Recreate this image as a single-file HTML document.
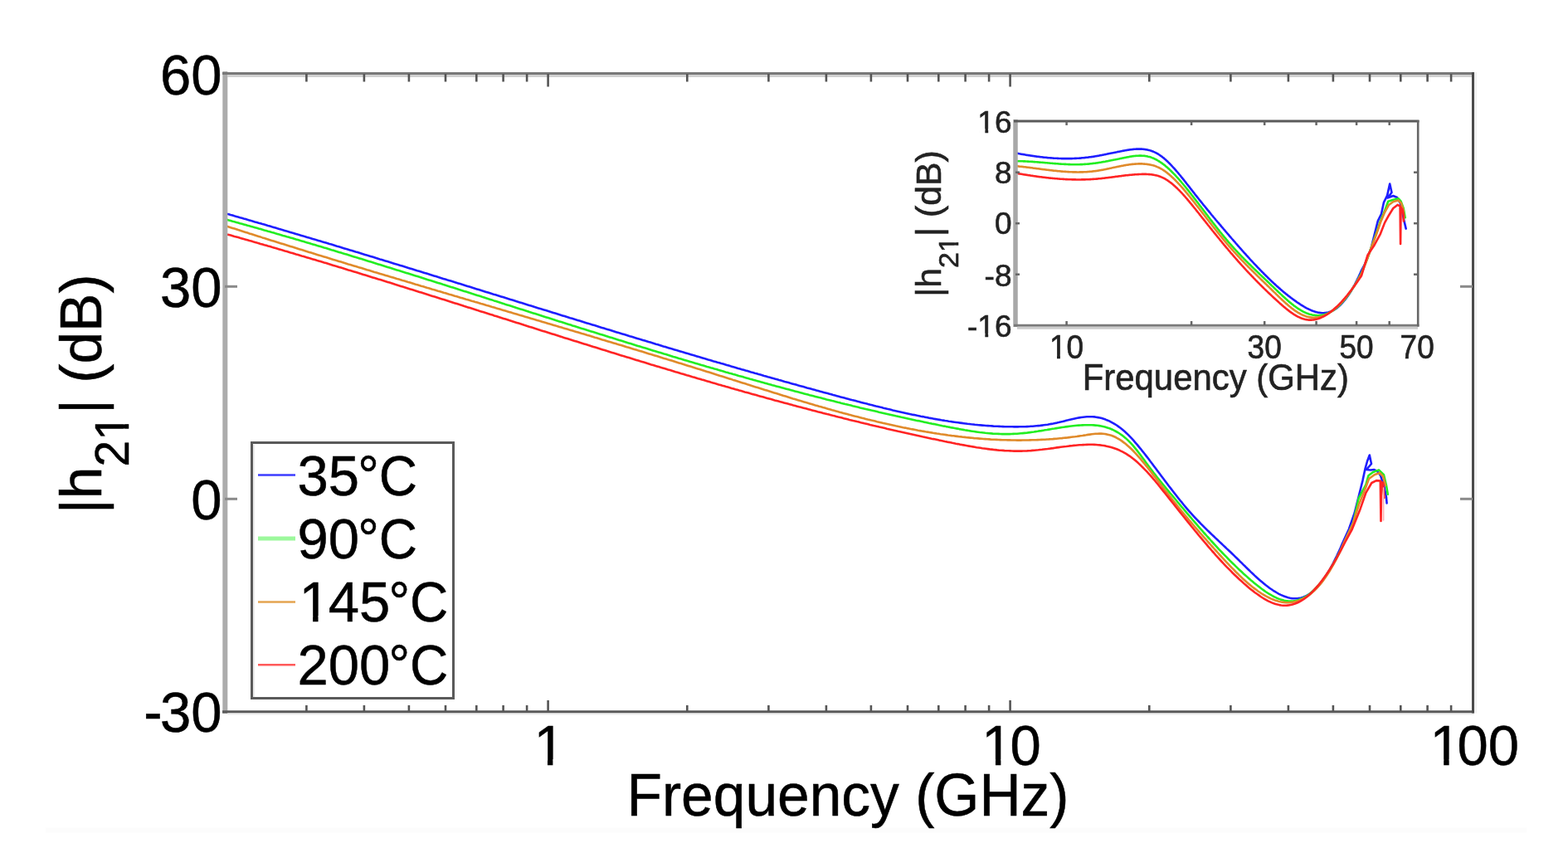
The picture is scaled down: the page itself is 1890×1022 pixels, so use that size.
<!DOCTYPE html>
<html><head><meta charset="utf-8"><title>|h21| vs frequency</title>
<style>
html,body{margin:0;padding:0;background:#fff;width:1890px;height:1022px;overflow:hidden}
svg{display:block}
text{font-family:'Liberation Sans',Arial,Helvetica,sans-serif;fill:#000}
text.m{stroke:#000;stroke-width:0.5px}
text.i{fill:#222;stroke:#222;stroke-width:0.6px}
</style></head><body>
<svg id="fig" width="1890" height="1022" viewBox="0 0 1890 1022">
<defs>
<clipPath id="cm"><rect x="271" y="89" width="1504" height="768"/></clipPath>
<clipPath id="ci"><rect x="1224" y="146" width="485" height="246"/></clipPath>
</defs>
<rect x="0" y="0" width="1890" height="1022" fill="#fff"/>
<rect x="55" y="997.5" width="1785" height="6" fill="#fcfcfc"/>
<g clip-path="url(#cm)" fill="none" stroke-width="2.6" stroke-linejoin="round" stroke-linecap="round">
<polyline points="271.3,257.0 273.5,257.7 275.8,258.3 278.0,259.0 280.3,259.6 282.5,260.3 284.8,260.9 287.0,261.5 289.3,262.2 291.5,262.8 293.8,263.5 296.0,264.1 298.3,264.8 300.5,265.4 302.8,266.1 305.0,266.7 307.3,267.4 309.5,268.0 311.8,268.7 314.0,269.3 316.3,270.0 318.5,270.6 320.8,271.3 323.0,272.0 325.3,272.6 327.5,273.3 329.8,273.9 332.0,274.6 334.3,275.3 336.5,275.9 338.7,276.6 341.0,277.2 343.2,277.9 345.5,278.6 347.7,279.2 350.0,279.9 352.2,280.6 354.5,281.2 356.7,281.9 359.0,282.6 361.2,283.2 363.5,283.9 365.7,284.6 368.0,285.2 370.2,285.9 372.5,286.6 374.7,287.2 377.0,287.9 379.2,288.6 381.5,289.2 383.7,289.9 386.0,290.6 388.2,291.3 390.5,291.9 392.7,292.6 395.0,293.3 397.2,294.0 399.5,294.6 401.7,295.3 403.9,296.0 406.2,296.7 408.4,297.3 410.7,298.0 412.9,298.7 415.2,299.4 417.4,300.1 419.7,300.7 421.9,301.4 424.2,302.1 426.4,302.8 428.7,303.5 430.9,304.1 433.2,304.8 435.4,305.5 437.7,306.2 439.9,306.9 442.2,307.6 444.4,308.2 446.7,308.9 448.9,309.6 451.2,310.3 453.4,311.0 455.7,311.7 457.9,312.4 460.2,313.0 462.4,313.7 464.6,314.4 466.9,315.1 469.1,315.8 471.4,316.5 473.6,317.2 475.9,317.9 478.1,318.6 480.4,319.2 482.6,319.9 484.9,320.6 487.1,321.3 489.4,322.0 491.6,322.7 493.9,323.4 496.1,324.1 498.4,324.8 500.6,325.5 502.9,326.2 505.1,326.8 507.4,327.5 509.6,328.2 511.9,328.9 514.1,329.6 516.4,330.3 518.6,331.0 520.9,331.7 523.1,332.4 525.4,333.1 527.6,333.8 529.8,334.5 532.1,335.2 534.3,335.9 536.6,336.6 538.8,337.3 541.1,337.9 543.3,338.6 545.6,339.3 547.8,340.0 550.1,340.7 552.3,341.4 554.6,342.1 556.8,342.8 559.1,343.5 561.3,344.2 563.6,344.9 565.8,345.6 568.1,346.3 570.3,347.0 572.6,347.7 574.8,348.4 577.1,349.1 579.3,349.8 581.6,350.5 583.8,351.2 586.1,351.9 588.3,352.6 590.6,353.3 592.8,354.0 595.0,354.7 597.3,355.3 599.5,356.0 601.8,356.7 604.0,357.4 606.3,358.1 608.5,358.8 610.8,359.5 613.0,360.2 615.3,360.9 617.5,361.6 619.8,362.3 622.0,363.0 624.3,363.7 626.5,364.4 628.8,365.1 631.0,365.8 633.3,366.5 635.5,367.2 637.8,367.9 640.0,368.6 642.3,369.3 644.5,370.0 646.8,370.7 649.0,371.4 651.3,372.1 653.5,372.7 655.8,373.4 658.0,374.1 660.2,374.8 662.5,375.5 664.7,376.2 667.0,376.9 669.2,377.6 671.5,378.3 673.7,379.0 676.0,379.7 678.2,380.4 680.5,381.1 682.7,381.8 685.0,382.5 687.2,383.2 689.5,383.8 691.7,384.5 694.0,385.2 696.2,385.9 698.5,386.6 700.7,387.3 703.0,388.0 705.2,388.7 707.5,389.4 709.7,390.1 712.0,390.7 714.2,391.4 716.5,392.1 718.7,392.8 720.9,393.5 723.2,394.2 725.4,394.9 727.7,395.6 729.9,396.3 732.2,396.9 734.4,397.6 736.7,398.3 738.9,399.0 741.2,399.7 743.4,400.4 745.7,401.1 747.9,401.7 750.2,402.4 752.4,403.1 754.7,403.8 756.9,404.5 759.2,405.2 761.4,405.8 763.7,406.5 765.9,407.2 768.2,407.9 770.4,408.6 772.7,409.2 774.9,409.9 777.2,410.6 779.4,411.3 781.7,412.0 783.9,412.6 786.1,413.3 788.4,414.0 790.6,414.7 792.9,415.3 795.1,416.0 797.4,416.7 799.6,417.4 801.9,418.0 804.1,418.7 806.4,419.4 808.6,420.1 810.9,420.7 813.1,421.4 815.4,422.1 817.6,422.7 819.9,423.4 822.1,424.1 824.4,424.7 826.6,425.4 828.9,426.1 831.1,426.7 833.4,427.4 835.6,428.1 837.9,428.7 840.1,429.4 842.4,430.1 844.6,430.7 846.9,431.4 849.1,432.1 851.3,432.7 853.6,433.4 855.8,434.0 858.1,434.7 860.3,435.4 862.6,436.0 864.8,436.7 867.1,437.3 869.3,438.0 871.6,438.6 873.8,439.3 876.1,440.0 878.3,440.6 880.6,441.3 882.8,441.9 885.1,442.6 887.3,443.2 889.6,443.9 891.8,444.5 894.1,445.2 896.3,445.8 898.6,446.5 900.8,447.1 903.1,447.7 905.3,448.4 907.6,449.0 909.8,449.7 912.1,450.3 914.3,451.0 916.5,451.6 918.8,452.2 921.0,452.9 923.3,453.5 925.5,454.2 927.8,454.8 930.0,455.4 932.3,456.1 934.5,456.7 936.8,457.3 939.0,458.0 941.3,458.6 943.5,459.2 945.8,459.9 948.0,460.5 950.3,461.1 952.5,461.8 954.8,462.4 957.0,463.0 959.3,463.6 961.5,464.3 963.8,464.9 966.0,465.5 968.3,466.1 970.5,466.7 972.8,467.4 975.0,468.0 977.2,468.6 979.5,469.2 981.7,469.8 984.0,470.5 986.2,471.1 988.5,471.7 990.7,472.3 993.0,472.9 995.2,473.5 997.5,474.1 999.7,474.7 1002.0,475.3 1004.2,476.0 1006.5,476.6 1008.7,477.2 1011.0,477.8 1013.2,478.4 1015.5,479.0 1017.7,479.6 1020.0,480.2 1022.2,480.8 1024.5,481.4 1026.7,482.0 1029.0,482.5 1031.2,483.1 1033.5,483.7 1035.7,484.3 1038.0,484.9 1040.2,485.5 1042.4,486.1 1044.7,486.6 1046.9,487.2 1049.2,487.8 1051.4,488.3 1053.7,488.9 1055.9,489.5 1058.2,490.0 1060.4,490.6 1062.7,491.1 1064.9,491.7 1067.2,492.2 1069.4,492.8 1071.7,493.3 1073.9,493.8 1076.2,494.4 1078.4,494.9 1080.7,495.4 1082.9,495.9 1085.2,496.4 1087.4,496.9 1089.7,497.4 1091.9,497.9 1094.2,498.4 1096.4,498.9 1098.7,499.4 1100.9,499.9 1103.2,500.3 1105.4,500.8 1107.6,501.2 1109.9,501.7 1112.1,502.1 1114.4,502.6 1116.6,503.0 1118.9,503.4 1121.1,503.9 1123.4,504.3 1125.6,504.7 1127.9,505.1 1130.1,505.5 1132.4,505.9 1134.6,506.3 1136.9,506.6 1139.1,507.0 1141.4,507.3 1143.6,507.7 1145.9,508.0 1148.1,508.4 1150.4,508.7 1152.6,509.0 1154.9,509.3 1157.1,509.6 1159.4,509.9 1161.6,510.2 1163.9,510.5 1166.1,510.8 1168.4,511.0 1170.6,511.3 1172.8,511.5 1175.1,511.8 1177.3,512.0 1179.6,512.2 1181.8,512.4 1184.1,512.6 1186.3,512.8 1188.6,513.0 1190.8,513.1 1193.1,513.3 1195.3,513.4 1197.6,513.6 1199.8,513.7 1202.1,513.8 1204.3,513.9 1206.6,514.0 1208.8,514.1 1211.1,514.2 1213.3,514.2 1215.6,514.3 1217.8,514.3 1220.1,514.3 1222.3,514.4 1224.6,514.4 1226.8,514.4 1229.1,514.3 1231.3,514.3 1233.5,514.2 1235.8,514.2 1238.0,514.1 1240.3,514.0 1242.5,513.8 1244.8,513.7 1247.0,513.5 1249.3,513.3 1251.5,513.1 1253.8,512.9 1256.0,512.6 1258.3,512.3 1260.5,512.0 1262.8,511.7 1265.0,511.3 1267.3,510.9 1269.5,510.5 1271.8,510.0 1274.0,509.6 1276.3,509.1 1278.5,508.5 1280.8,508.0 1283.0,507.4 1285.3,506.8 1287.5,506.3 1289.8,505.7 1292.0,505.2 1294.3,504.7 1296.5,504.2 1298.7,503.8 1301.0,503.4 1303.2,503.0 1305.5,502.7 1307.7,502.5 1310.0,502.3 1312.2,502.2 1314.5,502.2 1316.7,502.3 1319.0,502.4 1321.2,502.7 1323.5,503.1 1325.7,503.5 1328.0,504.1 1330.2,504.8 1332.5,505.6 1334.7,506.5 1337.0,507.4 1339.2,508.6 1341.5,509.8 1343.7,511.1 1346.0,512.5 1348.2,514.1 1350.5,515.7 1352.7,517.5 1355.0,519.4 1357.2,521.5 1359.5,523.6 1361.7,525.9 1363.9,528.2 1366.2,530.7 1368.4,533.3 1370.7,535.9 1372.9,538.6 1375.2,541.3 1377.4,544.2 1379.7,547.0 1381.9,549.9 1384.2,552.8 1386.4,555.8 1388.7,558.7 1390.9,561.7 1393.2,564.7 1395.4,567.7 1397.7,570.7 1399.9,573.7 1402.2,576.7 1404.4,579.7 1406.7,582.7 1408.9,585.7 1411.2,588.6 1413.4,591.5 1415.7,594.5 1417.9,597.3 1420.2,600.2 1422.4,603.0 1424.7,605.7 1426.9,608.5 1429.1,611.1 1431.4,613.8 1433.6,616.3 1435.9,618.9 1438.1,621.3 1440.4,623.8 1442.6,626.1 1444.9,628.5 1447.1,630.8 1449.4,633.1 1451.6,635.3 1453.9,637.6 1456.1,639.8 1458.4,642.0 1460.6,644.1 1462.9,646.3 1465.1,648.4 1467.4,650.5 1469.6,652.6 1471.9,654.8 1474.1,656.9 1476.4,659.0 1478.6,661.1 1480.9,663.2 1483.1,665.3 1485.4,667.5 1487.6,669.6 1489.8,671.8 1492.1,674.0 1494.3,676.2 1496.6,678.4 1498.8,680.6 1501.1,682.8 1503.3,685.0 1505.6,687.2 1507.8,689.4 1510.1,691.5 1512.3,693.6 1514.6,695.7 1516.8,697.7 1519.1,699.7 1521.3,701.6 1523.6,703.5 1525.8,705.3 1528.1,707.0 1530.3,708.7 1532.6,710.3 1534.8,711.8 1537.1,713.2 1539.3,714.5 1541.6,715.8 1543.8,716.9 1546.1,717.9 1548.3,718.8 1550.6,719.6 1552.8,720.2 1555.0,720.7 1557.3,721.1 1559.5,721.3 1561.8,721.3 1564.0,721.2 1566.3,720.9 1568.5,720.4 1570.8,719.7 1573.0,718.8 1575.3,717.7 1577.5,716.4 1579.8,714.9 1582.0,713.2 1584.3,711.2 1586.5,709.0 1588.8,706.5 1591.0,703.9 1593.3,701.0 1595.5,697.9 1597.8,694.6 1600.0,691.1 1602.3,687.3 1604.5,683.3 1606.8,679.1 1609.0,674.7 1611.3,670.1 1613.5,665.3 1615.8,660.2 1618.0,655.0 1625.9,637.8 1632.7,618.3 1637.6,598.7 1642.5,579.1 1645.4,565.4 1648.0,556.0 1650.8,548.5 1653.0,559.0 1647.0,566.0 1652.0,566.5 1656.0,566.0 1660.0,568.0 1664.0,573.0 1668.0,585.0 1670.9,598.7 1671.6,606.5" stroke="#1e1eff"/>
<polyline points="271.3,264.2 273.6,264.8 275.8,265.4 278.1,266.0 280.3,266.7 282.6,267.3 284.8,267.9 287.1,268.5 289.3,269.2 291.6,269.8 293.8,270.4 296.1,271.0 298.3,271.7 300.6,272.3 302.8,272.9 305.1,273.6 307.3,274.2 309.6,274.8 311.8,275.5 314.1,276.1 316.3,276.7 318.6,277.4 320.8,278.0 323.1,278.7 325.3,279.3 327.6,280.0 329.8,280.6 332.1,281.3 334.3,281.9 336.6,282.6 338.8,283.2 341.1,283.9 343.4,284.5 345.6,285.2 347.9,285.8 350.1,286.5 352.4,287.1 354.6,287.8 356.9,288.5 359.1,289.1 361.4,289.8 363.6,290.4 365.9,291.1 368.1,291.8 370.4,292.4 372.6,293.1 374.9,293.8 377.1,294.4 379.4,295.1 381.6,295.8 383.9,296.4 386.1,297.1 388.4,297.8 390.6,298.5 392.9,299.1 395.1,299.8 397.4,300.5 399.6,301.2 401.9,301.8 404.1,302.5 406.4,303.2 408.6,303.9 410.9,304.6 413.1,305.3 415.4,305.9 417.7,306.6 419.9,307.3 422.2,308.0 424.4,308.7 426.7,309.4 428.9,310.1 431.2,310.7 433.4,311.4 435.7,312.1 437.9,312.8 440.2,313.5 442.4,314.2 444.7,314.9 446.9,315.6 449.2,316.3 451.4,317.0 453.7,317.7 455.9,318.4 458.2,319.1 460.4,319.8 462.7,320.5 464.9,321.2 467.2,321.9 469.4,322.6 471.7,323.3 473.9,324.0 476.2,324.7 478.4,325.4 480.7,326.1 482.9,326.8 485.2,327.5 487.5,328.2 489.7,328.9 492.0,329.6 494.2,330.3 496.5,331.0 498.7,331.7 501.0,332.4 503.2,333.1 505.5,333.8 507.7,334.5 510.0,335.2 512.2,335.9 514.5,336.7 516.7,337.4 519.0,338.1 521.2,338.8 523.5,339.5 525.7,340.2 528.0,340.9 530.2,341.6 532.5,342.3 534.7,343.1 537.0,343.8 539.2,344.5 541.5,345.2 543.7,345.9 546.0,346.6 548.2,347.3 550.5,348.0 552.7,348.8 555.0,349.5 557.3,350.2 559.5,350.9 561.8,351.6 564.0,352.3 566.3,353.0 568.5,353.8 570.8,354.5 573.0,355.2 575.3,355.9 577.5,356.6 579.8,357.3 582.0,358.1 584.3,358.8 586.5,359.5 588.8,360.2 591.0,360.9 593.3,361.6 595.5,362.4 597.8,363.1 600.0,363.8 602.3,364.5 604.5,365.2 606.8,365.9 609.0,366.7 611.3,367.4 613.5,368.1 615.8,368.8 618.0,369.5 620.3,370.2 622.5,371.0 624.8,371.7 627.1,372.4 629.3,373.1 631.6,373.8 633.8,374.5 636.1,375.2 638.3,376.0 640.6,376.7 642.8,377.4 645.1,378.1 647.3,378.8 649.6,379.5 651.8,380.2 654.1,381.0 656.3,381.7 658.6,382.4 660.8,383.1 663.1,383.8 665.3,384.5 667.6,385.2 669.8,386.0 672.1,386.7 674.3,387.4 676.6,388.1 678.8,388.8 681.1,389.5 683.3,390.2 685.6,390.9 687.8,391.6 690.1,392.4 692.3,393.1 694.6,393.8 696.8,394.5 699.1,395.2 701.4,395.9 703.6,396.6 705.9,397.3 708.1,398.0 710.4,398.7 712.6,399.4 714.9,400.1 717.1,400.8 719.4,401.5 721.6,402.2 723.9,402.9 726.1,403.6 728.4,404.3 730.6,405.0 732.9,405.7 735.1,406.4 737.4,407.1 739.6,407.8 741.9,408.5 744.1,409.2 746.4,409.9 748.6,410.6 750.9,411.3 753.1,412.0 755.4,412.7 757.6,413.4 759.9,414.1 762.1,414.8 764.4,415.5 766.6,416.2 768.9,416.9 771.2,417.6 773.4,418.3 775.7,418.9 777.9,419.6 780.2,420.3 782.4,421.0 784.7,421.7 786.9,422.4 789.2,423.1 791.4,423.7 793.7,424.4 795.9,425.1 798.2,425.8 800.4,426.5 802.7,427.1 804.9,427.8 807.2,428.5 809.4,429.2 811.7,429.9 813.9,430.5 816.2,431.2 818.4,431.9 820.7,432.5 822.9,433.2 825.2,433.9 827.4,434.6 829.7,435.2 831.9,435.9 834.2,436.6 836.4,437.2 838.7,437.9 841.0,438.6 843.2,439.2 845.5,439.9 847.7,440.5 850.0,441.2 852.2,441.9 854.5,442.5 856.7,443.2 859.0,443.8 861.2,444.5 863.5,445.1 865.7,445.8 868.0,446.4 870.2,447.1 872.5,447.7 874.7,448.4 877.0,449.0 879.2,449.7 881.5,450.3 883.7,451.0 886.0,451.6 888.2,452.2 890.5,452.9 892.7,453.5 895.0,454.1 897.2,454.8 899.5,455.4 901.7,456.0 904.0,456.7 906.2,457.3 908.5,457.9 910.8,458.6 913.0,459.2 915.3,459.8 917.5,460.4 919.8,461.1 922.0,461.7 924.3,462.3 926.5,462.9 928.8,463.5 931.0,464.2 933.3,464.8 935.5,465.4 937.8,466.0 940.0,466.6 942.3,467.2 944.5,467.8 946.8,468.4 949.0,469.0 951.3,469.6 953.5,470.2 955.8,470.8 958.0,471.4 960.3,472.0 962.5,472.6 964.8,473.2 967.0,473.8 969.3,474.4 971.5,475.0 973.8,475.6 976.0,476.2 978.3,476.7 980.5,477.3 982.8,477.9 985.1,478.5 987.3,479.1 989.6,479.6 991.8,480.2 994.1,480.8 996.3,481.4 998.6,481.9 1000.8,482.5 1003.1,483.1 1005.3,483.6 1007.6,484.2 1009.8,484.8 1012.1,485.3 1014.3,485.9 1016.6,486.4 1018.8,487.0 1021.1,487.5 1023.3,488.1 1025.6,488.6 1027.8,489.2 1030.1,489.7 1032.3,490.3 1034.6,490.8 1036.8,491.4 1039.1,491.9 1041.3,492.4 1043.6,493.0 1045.8,493.5 1048.1,494.0 1050.3,494.6 1052.6,495.1 1054.9,495.6 1057.1,496.1 1059.4,496.7 1061.6,497.2 1063.9,497.7 1066.1,498.2 1068.4,498.7 1070.6,499.2 1072.9,499.7 1075.1,500.2 1077.4,500.7 1079.6,501.3 1081.9,501.8 1084.1,502.3 1086.4,502.8 1088.6,503.2 1090.9,503.7 1093.1,504.2 1095.4,504.7 1097.6,505.2 1099.9,505.7 1102.1,506.2 1104.4,506.7 1106.6,507.1 1108.9,507.6 1111.1,508.1 1113.4,508.6 1115.6,509.0 1117.9,509.5 1120.1,510.0 1122.4,510.4 1124.7,510.9 1126.9,511.3 1129.2,511.8 1131.4,512.3 1133.7,512.7 1135.9,513.2 1138.2,513.6 1140.4,514.1 1142.7,514.5 1144.9,514.9 1147.2,515.4 1149.4,515.8 1151.7,516.2 1153.9,516.6 1156.2,517.1 1158.4,517.5 1160.7,517.9 1162.9,518.3 1165.2,518.6 1167.4,519.0 1169.7,519.4 1171.9,519.7 1174.2,520.0 1176.4,520.4 1178.7,520.7 1180.9,521.0 1183.2,521.2 1185.4,521.5 1187.7,521.8 1189.9,522.0 1192.2,522.2 1194.5,522.4 1196.7,522.6 1199.0,522.7 1201.2,522.8 1203.5,522.9 1205.7,523.0 1208.0,523.1 1210.2,523.1 1212.5,523.1 1214.7,523.1 1217.0,523.1 1219.2,523.0 1221.5,522.9 1223.7,522.8 1226.0,522.7 1228.2,522.5 1230.5,522.3 1232.7,522.1 1235.0,521.9 1237.2,521.7 1239.5,521.4 1241.7,521.1 1244.0,520.8 1246.2,520.5 1248.5,520.1 1250.7,519.8 1253.0,519.4 1255.2,519.1 1257.5,518.7 1259.7,518.3 1262.0,518.0 1264.2,517.6 1266.5,517.2 1268.8,516.8 1271.0,516.5 1273.3,516.1 1275.5,515.7 1277.8,515.4 1280.0,515.0 1282.3,514.7 1284.5,514.4 1286.8,514.1 1289.0,513.8 1291.3,513.5 1293.5,513.2 1295.8,513.0 1298.0,512.8 1300.3,512.6 1302.5,512.5 1304.8,512.4 1307.0,512.3 1309.3,512.2 1311.5,512.2 1313.8,512.2 1316.0,512.3 1318.3,512.4 1320.5,512.6 1322.8,512.8 1325.0,513.1 1327.3,513.5 1329.5,514.0 1331.8,514.5 1334.0,515.2 1336.3,515.9 1338.6,516.8 1340.8,517.7 1343.1,518.8 1345.3,520.0 1347.6,521.3 1349.8,522.8 1352.1,524.3 1354.3,526.1 1356.6,527.9 1358.8,529.9 1361.1,532.1 1363.3,534.4 1365.6,536.9 1367.8,539.6 1370.1,542.4 1372.3,545.3 1374.6,548.2 1376.8,551.2 1379.1,554.3 1381.3,557.4 1383.6,560.5 1385.8,563.5 1388.1,566.5 1390.3,569.5 1392.6,572.4 1394.8,575.2 1397.1,578.1 1399.3,580.8 1401.6,583.6 1403.8,586.3 1406.1,589.1 1408.4,591.8 1410.6,594.5 1412.9,597.1 1415.1,599.8 1417.4,602.5 1419.6,605.2 1421.9,607.9 1424.1,610.6 1426.4,613.2 1428.6,615.9 1430.9,618.6 1433.1,621.2 1435.4,623.8 1437.6,626.5 1439.9,629.1 1442.1,631.7 1444.4,634.3 1446.6,636.9 1448.9,639.4 1451.1,642.0 1453.4,644.5 1455.6,647.0 1457.9,649.5 1460.1,652.0 1462.4,654.5 1464.6,656.9 1466.9,659.4 1469.1,661.8 1471.4,664.2 1473.6,666.5 1475.9,668.9 1478.2,671.2 1480.4,673.5 1482.7,675.8 1484.9,678.0 1487.2,680.2 1489.4,682.4 1491.7,684.6 1493.9,686.7 1496.2,688.8 1498.4,690.9 1500.7,692.9 1502.9,694.9 1505.2,696.9 1507.4,698.9 1509.7,700.8 1511.9,702.7 1514.2,704.5 1516.4,706.3 1518.7,708.1 1520.9,709.8 1523.2,711.4 1525.4,713.0 1527.7,714.5 1529.9,715.9 1532.2,717.2 1534.4,718.5 1536.7,719.6 1538.9,720.7 1541.2,721.6 1543.4,722.4 1545.7,723.1 1547.9,723.7 1550.2,724.1 1552.5,724.4 1554.7,724.5 1557.0,724.5 1559.2,724.4 1561.5,724.0 1563.7,723.5 1566.0,722.8 1568.2,721.9 1570.5,720.9 1572.7,719.7 1575.0,718.3 1577.2,716.7 1579.5,714.9 1581.7,713.0 1584.0,710.9 1586.2,708.7 1588.5,706.2 1590.7,703.6 1593.0,700.8 1595.2,697.9 1597.5,694.8 1599.7,691.5 1602.0,688.1 1604.2,684.4 1606.5,680.7 1608.7,676.7 1611.0,672.6 1613.2,668.4 1615.5,664.0 1617.7,659.4 1620.0,654.7 1631.2,630.1 1637.6,600.7 1646.4,584.0 1649.4,573.3 1655.0,569.0 1662.0,566.4 1668.0,572.3 1671.0,585.0 1672.8,595.8" stroke="#22ee22"/>
<polyline points="271.3,272.0 273.6,272.7 275.8,273.4 278.1,274.2 280.3,274.9 282.6,275.6 284.8,276.3 287.1,277.1 289.3,277.8 291.6,278.5 293.8,279.2 296.1,279.9 298.3,280.6 300.6,281.4 302.8,282.1 305.1,282.8 307.3,283.5 309.6,284.2 311.8,284.9 314.1,285.6 316.3,286.4 318.6,287.1 320.8,287.8 323.1,288.5 325.3,289.2 327.6,289.9 329.8,290.6 332.1,291.3 334.3,292.0 336.6,292.7 338.8,293.4 341.1,294.1 343.4,294.8 345.6,295.5 347.9,296.2 350.1,296.9 352.4,297.6 354.6,298.3 356.9,299.0 359.1,299.7 361.4,300.4 363.6,301.1 365.9,301.8 368.1,302.5 370.4,303.2 372.6,303.9 374.9,304.6 377.1,305.3 379.4,306.0 381.6,306.7 383.9,307.4 386.1,308.1 388.4,308.7 390.6,309.4 392.9,310.1 395.1,310.8 397.4,311.5 399.6,312.2 401.9,312.9 404.1,313.6 406.4,314.2 408.6,314.9 410.9,315.6 413.1,316.3 415.4,317.0 417.7,317.7 419.9,318.4 422.2,319.0 424.4,319.7 426.7,320.4 428.9,321.1 431.2,321.8 433.4,322.4 435.7,323.1 437.9,323.8 440.2,324.5 442.4,325.2 444.7,325.8 446.9,326.5 449.2,327.2 451.4,327.9 453.7,328.5 455.9,329.2 458.2,329.9 460.4,330.6 462.7,331.2 464.9,331.9 467.2,332.6 469.4,333.3 471.7,333.9 473.9,334.6 476.2,335.3 478.4,336.0 480.7,336.6 482.9,337.3 485.2,338.0 487.5,338.6 489.7,339.3 492.0,340.0 494.2,340.6 496.5,341.3 498.7,342.0 501.0,342.7 503.2,343.3 505.5,344.0 507.7,344.7 510.0,345.3 512.2,346.0 514.5,346.7 516.7,347.3 519.0,348.0 521.2,348.7 523.5,349.3 525.7,350.0 528.0,350.7 530.2,351.3 532.5,352.0 534.7,352.7 537.0,353.3 539.2,354.0 541.5,354.7 543.7,355.3 546.0,356.0 548.2,356.7 550.5,357.3 552.7,358.0 555.0,358.7 557.3,359.3 559.5,360.0 561.8,360.7 564.0,361.3 566.3,362.0 568.5,362.7 570.8,363.3 573.0,364.0 575.3,364.6 577.5,365.3 579.8,366.0 582.0,366.6 584.3,367.3 586.5,368.0 588.8,368.6 591.0,369.3 593.3,370.0 595.5,370.6 597.8,371.3 600.0,371.9 602.3,372.6 604.5,373.3 606.8,373.9 609.0,374.6 611.3,375.3 613.5,375.9 615.8,376.6 618.0,377.3 620.3,377.9 622.5,378.6 624.8,379.3 627.1,379.9 629.3,380.6 631.6,381.3 633.8,381.9 636.1,382.6 638.3,383.2 640.6,383.9 642.8,384.6 645.1,385.2 647.3,385.9 649.6,386.6 651.8,387.2 654.1,387.9 656.3,388.6 658.6,389.2 660.8,389.9 663.1,390.6 665.3,391.2 667.6,391.9 669.8,392.6 672.1,393.2 674.3,393.9 676.6,394.6 678.8,395.3 681.1,395.9 683.3,396.6 685.6,397.3 687.8,397.9 690.1,398.6 692.3,399.3 694.6,399.9 696.8,400.6 699.1,401.3 701.4,402.0 703.6,402.6 705.9,403.3 708.1,404.0 710.4,404.6 712.6,405.3 714.9,406.0 717.1,406.7 719.4,407.3 721.6,408.0 723.9,408.7 726.1,409.4 728.4,410.0 730.6,410.7 732.9,411.4 735.1,412.1 737.4,412.7 739.6,413.4 741.9,414.1 744.1,414.8 746.4,415.4 748.6,416.1 750.9,416.8 753.1,417.5 755.4,418.2 757.6,418.8 759.9,419.5 762.1,420.2 764.4,420.9 766.6,421.6 768.9,422.3 771.2,422.9 773.4,423.6 775.7,424.3 777.9,425.0 780.2,425.7 782.4,426.4 784.7,427.1 786.9,427.7 789.2,428.4 791.4,429.1 793.7,429.8 795.9,430.5 798.2,431.2 800.4,431.9 802.7,432.6 804.9,433.3 807.2,433.9 809.4,434.6 811.7,435.3 813.9,436.0 816.2,436.7 818.4,437.4 820.7,438.1 822.9,438.8 825.2,439.5 827.4,440.2 829.7,440.9 831.9,441.6 834.2,442.3 836.4,443.0 838.7,443.7 841.0,444.4 843.2,445.1 845.5,445.8 847.7,446.5 850.0,447.2 852.2,447.9 854.5,448.6 856.7,449.3 859.0,450.0 861.2,450.7 863.5,451.5 865.7,452.2 868.0,452.9 870.2,453.6 872.5,454.3 874.7,455.0 877.0,455.7 879.2,456.4 881.5,457.1 883.7,457.9 886.0,458.6 888.2,459.3 890.5,460.0 892.7,460.7 895.0,461.4 897.2,462.1 899.5,462.8 901.7,463.6 904.0,464.3 906.2,465.0 908.5,465.7 910.8,466.4 913.0,467.1 915.3,467.8 917.5,468.5 919.8,469.2 922.0,469.9 924.3,470.6 926.5,471.3 928.8,472.0 931.0,472.7 933.3,473.4 935.5,474.1 937.8,474.8 940.0,475.5 942.3,476.2 944.5,476.9 946.8,477.6 949.0,478.3 951.3,479.0 953.5,479.7 955.8,480.4 958.0,481.0 960.3,481.7 962.5,482.4 964.8,483.1 967.0,483.7 969.3,484.4 971.5,485.1 973.8,485.7 976.0,486.4 978.3,487.1 980.5,487.7 982.8,488.4 985.1,489.0 987.3,489.7 989.6,490.3 991.8,491.0 994.1,491.6 996.3,492.3 998.6,492.9 1000.8,493.5 1003.1,494.2 1005.3,494.8 1007.6,495.4 1009.8,496.0 1012.1,496.7 1014.3,497.3 1016.6,497.9 1018.8,498.5 1021.1,499.1 1023.3,499.7 1025.6,500.3 1027.8,500.9 1030.1,501.5 1032.3,502.0 1034.6,502.6 1036.8,503.2 1039.1,503.8 1041.3,504.3 1043.6,504.9 1045.8,505.5 1048.1,506.0 1050.3,506.6 1052.6,507.1 1054.9,507.6 1057.1,508.2 1059.4,508.7 1061.6,509.2 1063.9,509.8 1066.1,510.3 1068.4,510.8 1070.6,511.3 1072.9,511.8 1075.1,512.3 1077.4,512.8 1079.6,513.3 1081.9,513.7 1084.1,514.2 1086.4,514.7 1088.6,515.2 1090.9,515.6 1093.1,516.1 1095.4,516.5 1097.6,517.0 1099.9,517.4 1102.1,517.8 1104.4,518.2 1106.6,518.7 1108.9,519.1 1111.1,519.5 1113.4,519.9 1115.6,520.3 1117.9,520.6 1120.1,521.0 1122.4,521.4 1124.7,521.8 1126.9,522.1 1129.2,522.5 1131.4,522.8 1133.7,523.2 1135.9,523.5 1138.2,523.8 1140.4,524.1 1142.7,524.5 1144.9,524.8 1147.2,525.1 1149.4,525.3 1151.7,525.6 1153.9,525.9 1156.2,526.2 1158.4,526.4 1160.7,526.7 1162.9,526.9 1165.2,527.2 1167.4,527.4 1169.7,527.6 1171.9,527.8 1174.2,528.1 1176.4,528.3 1178.7,528.4 1180.9,528.6 1183.2,528.8 1185.4,529.0 1187.7,529.1 1189.9,529.3 1192.2,529.4 1194.5,529.6 1196.7,529.7 1199.0,529.8 1201.2,529.9 1203.5,530.0 1205.7,530.1 1208.0,530.2 1210.2,530.3 1212.5,530.3 1214.7,530.4 1217.0,530.4 1219.2,530.5 1221.5,530.5 1223.7,530.5 1226.0,530.6 1228.2,530.6 1230.5,530.6 1232.7,530.5 1235.0,530.5 1237.2,530.5 1239.5,530.5 1241.7,530.4 1244.0,530.3 1246.2,530.3 1248.5,530.2 1250.7,530.1 1253.0,530.0 1255.2,529.9 1257.5,529.8 1259.7,529.7 1262.0,529.5 1264.2,529.4 1266.5,529.2 1268.8,529.1 1271.0,528.9 1273.3,528.7 1275.5,528.5 1277.8,528.3 1280.0,528.1 1282.3,527.8 1284.5,527.6 1286.8,527.4 1289.0,527.1 1291.3,526.8 1293.5,526.5 1295.8,526.3 1298.0,526.0 1300.3,525.6 1302.5,525.3 1304.8,525.0 1307.0,524.6 1309.3,524.3 1311.5,523.9 1313.8,523.6 1316.0,523.3 1318.3,523.0 1320.5,522.8 1322.8,522.7 1325.0,522.6 1327.3,522.6 1329.5,522.8 1331.8,523.0 1334.0,523.4 1336.3,523.9 1338.6,524.5 1340.8,525.3 1343.1,526.3 1345.3,527.3 1347.6,528.6 1349.8,529.9 1352.1,531.4 1354.3,533.1 1356.6,534.8 1358.8,536.7 1361.1,538.7 1363.3,540.8 1365.6,543.0 1367.8,545.4 1370.1,547.8 1372.3,550.3 1374.6,552.9 1376.8,555.6 1379.1,558.3 1381.3,561.1 1383.6,563.9 1385.8,566.8 1388.1,569.7 1390.3,572.6 1392.6,575.5 1394.8,578.4 1397.1,581.4 1399.3,584.3 1401.6,587.3 1403.8,590.2 1406.1,593.1 1408.4,596.0 1410.6,598.9 1412.9,601.8 1415.1,604.6 1417.4,607.4 1419.6,610.2 1421.9,613.0 1424.1,615.7 1426.4,618.5 1428.6,621.2 1430.9,623.9 1433.1,626.6 1435.4,629.2 1437.6,631.8 1439.9,634.5 1442.1,637.1 1444.4,639.7 1446.6,642.3 1448.9,644.8 1451.1,647.4 1453.4,649.9 1455.6,652.5 1457.9,655.0 1460.1,657.5 1462.4,660.0 1464.6,662.5 1466.9,665.0 1469.1,667.5 1471.4,670.0 1473.6,672.4 1475.9,674.9 1478.2,677.3 1480.4,679.7 1482.7,682.1 1484.9,684.4 1487.2,686.7 1489.4,689.0 1491.7,691.2 1493.9,693.4 1496.2,695.6 1498.4,697.7 1500.7,699.7 1502.9,701.7 1505.2,703.7 1507.4,705.6 1509.7,707.4 1511.9,709.1 1514.2,710.8 1516.4,712.5 1518.7,714.0 1520.9,715.5 1523.2,716.9 1525.4,718.2 1527.7,719.4 1529.9,720.5 1532.2,721.6 1534.4,722.5 1536.7,723.4 1538.9,724.1 1541.2,724.7 1543.4,725.2 1545.7,725.6 1547.9,725.9 1550.2,726.1 1552.5,726.2 1554.7,726.1 1557.0,725.9 1559.2,725.5 1561.5,725.0 1563.7,724.4 1566.0,723.7 1568.2,722.7 1570.5,721.7 1572.7,720.5 1575.0,719.1 1577.2,717.6 1579.5,715.9 1581.7,714.0 1584.0,712.0 1586.2,709.8 1588.5,707.4 1590.7,704.9 1593.0,702.2 1595.2,699.2 1597.5,696.1 1599.7,692.8 1602.0,689.3 1604.2,685.6 1606.5,681.7 1608.7,677.6 1611.0,673.3 1613.2,668.8 1615.5,664.1 1617.7,659.1 1620.0,653.9 1631.0,630.5 1638.0,608.0 1646.0,588.0 1650.0,577.0 1657.0,572.0 1663.0,570.0 1667.0,574.0 1670.0,585.0" stroke="#e08a2a"/>
<polyline points="271.3,281.7 273.6,282.4 275.8,283.0 278.1,283.6 280.3,284.2 282.6,284.9 284.8,285.5 287.1,286.1 289.3,286.8 291.6,287.4 293.8,288.1 296.1,288.7 298.3,289.3 300.6,290.0 302.8,290.6 305.1,291.3 307.4,291.9 309.6,292.6 311.9,293.2 314.1,293.9 316.4,294.5 318.6,295.2 320.9,295.8 323.1,296.5 325.4,297.1 327.6,297.8 329.9,298.4 332.1,299.1 334.4,299.7 336.6,300.4 338.9,301.1 341.2,301.7 343.4,302.4 345.7,303.0 347.9,303.7 350.2,304.4 352.4,305.0 354.7,305.7 356.9,306.4 359.2,307.0 361.4,307.7 363.7,308.4 365.9,309.0 368.2,309.7 370.4,310.4 372.7,311.1 374.9,311.7 377.2,312.4 379.5,313.1 381.7,313.8 384.0,314.4 386.2,315.1 388.5,315.8 390.7,316.5 393.0,317.1 395.2,317.8 397.5,318.5 399.7,319.2 402.0,319.9 404.2,320.6 406.5,321.2 408.7,321.9 411.0,322.6 413.3,323.3 415.5,324.0 417.8,324.7 420.0,325.4 422.3,326.0 424.5,326.7 426.8,327.4 429.0,328.1 431.3,328.8 433.5,329.5 435.8,330.2 438.0,330.9 440.3,331.6 442.5,332.3 444.8,333.0 447.1,333.7 449.3,334.4 451.6,335.1 453.8,335.8 456.1,336.5 458.3,337.1 460.6,337.8 462.8,338.5 465.1,339.2 467.3,339.9 469.6,340.6 471.8,341.3 474.1,342.0 476.3,342.8 478.6,343.5 480.9,344.2 483.1,344.9 485.4,345.6 487.6,346.3 489.9,347.0 492.1,347.7 494.4,348.4 496.6,349.1 498.9,349.8 501.1,350.5 503.4,351.2 505.6,351.9 507.9,352.6 510.1,353.3 512.4,354.0 514.7,354.7 516.9,355.4 519.2,356.2 521.4,356.9 523.7,357.6 525.9,358.3 528.2,359.0 530.4,359.7 532.7,360.4 534.9,361.1 537.2,361.8 539.4,362.5 541.7,363.3 543.9,364.0 546.2,364.7 548.5,365.4 550.7,366.1 553.0,366.8 555.2,367.5 557.5,368.2 559.7,369.0 562.0,369.7 564.2,370.4 566.5,371.1 568.7,371.8 571.0,372.5 573.2,373.2 575.5,373.9 577.7,374.7 580.0,375.4 582.2,376.1 584.5,376.8 586.8,377.5 589.0,378.2 591.3,378.9 593.5,379.6 595.8,380.4 598.0,381.1 600.3,381.8 602.5,382.5 604.8,383.2 607.0,383.9 609.3,384.6 611.5,385.3 613.8,386.1 616.0,386.8 618.3,387.5 620.6,388.2 622.8,388.9 625.1,389.6 627.3,390.3 629.6,391.0 631.8,391.8 634.1,392.5 636.3,393.2 638.6,393.9 640.8,394.6 643.1,395.3 645.3,396.0 647.6,396.7 649.8,397.4 652.1,398.2 654.4,398.9 656.6,399.6 658.9,400.3 661.1,401.0 663.4,401.7 665.6,402.4 667.9,403.1 670.1,403.8 672.4,404.5 674.6,405.2 676.9,405.9 679.1,406.7 681.4,407.4 683.6,408.1 685.9,408.8 688.2,409.5 690.4,410.2 692.7,410.9 694.9,411.6 697.2,412.3 699.4,413.0 701.7,413.7 703.9,414.4 706.2,415.1 708.4,415.8 710.7,416.5 712.9,417.2 715.2,417.9 717.4,418.6 719.7,419.3 722.0,420.0 724.2,420.7 726.5,421.4 728.7,422.1 731.0,422.8 733.2,423.5 735.5,424.2 737.7,424.9 740.0,425.6 742.2,426.3 744.5,427.0 746.7,427.7 749.0,428.4 751.2,429.1 753.5,429.7 755.7,430.4 758.0,431.1 760.3,431.8 762.5,432.5 764.8,433.2 767.0,433.9 769.3,434.6 771.5,435.3 773.8,435.9 776.0,436.6 778.3,437.3 780.5,438.0 782.8,438.7 785.0,439.4 787.3,440.0 789.5,440.7 791.8,441.4 794.1,442.1 796.3,442.8 798.6,443.4 800.8,444.1 803.1,444.8 805.3,445.5 807.6,446.1 809.8,446.8 812.1,447.5 814.3,448.2 816.6,448.8 818.8,449.5 821.1,450.2 823.3,450.8 825.6,451.5 827.9,452.2 830.1,452.8 832.4,453.5 834.6,454.2 836.9,454.8 839.1,455.5 841.4,456.2 843.6,456.8 845.9,457.5 848.1,458.1 850.4,458.8 852.6,459.4 854.9,460.1 857.1,460.8 859.4,461.4 861.7,462.1 863.9,462.7 866.2,463.4 868.4,464.0 870.7,464.7 872.9,465.3 875.2,466.0 877.4,466.6 879.7,467.2 881.9,467.9 884.2,468.5 886.4,469.2 888.7,469.8 890.9,470.5 893.2,471.1 895.5,471.7 897.7,472.4 900.0,473.0 902.2,473.6 904.5,474.3 906.7,474.9 909.0,475.5 911.2,476.1 913.5,476.8 915.7,477.4 918.0,478.0 920.2,478.6 922.5,479.3 924.7,479.9 927.0,480.5 929.3,481.1 931.5,481.7 933.8,482.4 936.0,483.0 938.3,483.6 940.5,484.2 942.8,484.8 945.0,485.4 947.3,486.0 949.5,486.6 951.8,487.2 954.0,487.8 956.3,488.5 958.5,489.1 960.8,489.7 963.0,490.3 965.3,490.8 967.6,491.4 969.8,492.0 972.1,492.6 974.3,493.2 976.6,493.8 978.8,494.4 981.1,495.0 983.3,495.6 985.6,496.2 987.8,496.7 990.1,497.3 992.3,497.9 994.6,498.5 996.8,499.1 999.1,499.6 1001.4,500.2 1003.6,500.8 1005.9,501.3 1008.1,501.9 1010.4,502.5 1012.6,503.0 1014.9,503.6 1017.1,504.2 1019.4,504.7 1021.6,505.3 1023.9,505.9 1026.1,506.4 1028.4,507.0 1030.6,507.5 1032.9,508.1 1035.2,508.6 1037.4,509.2 1039.7,509.7 1041.9,510.3 1044.2,510.8 1046.4,511.3 1048.7,511.9 1050.9,512.4 1053.2,513.0 1055.4,513.5 1057.7,514.0 1059.9,514.6 1062.2,515.1 1064.4,515.6 1066.7,516.1 1069.0,516.7 1071.2,517.2 1073.5,517.7 1075.7,518.2 1078.0,518.7 1080.2,519.2 1082.5,519.8 1084.7,520.3 1087.0,520.8 1089.2,521.3 1091.5,521.8 1093.7,522.3 1096.0,522.8 1098.2,523.3 1100.5,523.8 1102.8,524.3 1105.0,524.8 1107.3,525.3 1109.5,525.8 1111.8,526.3 1114.0,526.7 1116.3,527.2 1118.5,527.7 1120.8,528.2 1123.0,528.7 1125.3,529.1 1127.5,529.6 1129.8,530.1 1132.0,530.6 1134.3,531.0 1136.6,531.5 1138.8,532.0 1141.1,532.4 1143.3,532.9 1145.6,533.3 1147.8,533.8 1150.1,534.2 1152.3,534.7 1154.6,535.1 1156.8,535.6 1159.1,536.0 1161.3,536.4 1163.6,536.8 1165.8,537.2 1168.1,537.6 1170.3,538.0 1172.6,538.4 1174.9,538.8 1177.1,539.2 1179.4,539.5 1181.6,539.8 1183.9,540.2 1186.1,540.5 1188.4,540.8 1190.6,541.1 1192.9,541.4 1195.1,541.6 1197.4,541.9 1199.6,542.1 1201.9,542.4 1204.1,542.6 1206.4,542.7 1208.7,542.9 1210.9,543.1 1213.2,543.2 1215.4,543.3 1217.7,543.4 1219.9,543.5 1222.2,543.6 1224.4,543.6 1226.7,543.6 1228.9,543.6 1231.2,543.6 1233.4,543.5 1235.7,543.5 1237.9,543.4 1240.2,543.2 1242.5,543.1 1244.7,542.9 1247.0,542.7 1249.2,542.5 1251.5,542.3 1253.7,542.0 1256.0,541.8 1258.2,541.5 1260.5,541.2 1262.7,541.0 1265.0,540.7 1267.2,540.4 1269.5,540.1 1271.7,539.7 1274.0,539.4 1276.3,539.1 1278.5,538.8 1280.8,538.5 1283.0,538.2 1285.3,538.0 1287.5,537.7 1289.8,537.4 1292.0,537.2 1294.3,536.9 1296.5,536.7 1298.8,536.5 1301.0,536.3 1303.3,536.2 1305.5,536.1 1307.8,536.0 1310.1,535.9 1312.3,535.8 1314.6,535.8 1316.8,535.8 1319.1,535.9 1321.3,536.0 1323.6,536.2 1325.8,536.4 1328.1,536.7 1330.3,537.0 1332.6,537.4 1334.8,537.9 1337.1,538.4 1339.3,539.0 1341.6,539.7 1343.8,540.5 1346.1,541.3 1348.4,542.2 1350.6,543.3 1352.9,544.4 1355.1,545.6 1357.4,546.9 1359.6,548.3 1361.9,549.8 1364.1,551.5 1366.4,553.2 1368.6,555.1 1370.9,557.1 1373.1,559.1 1375.4,561.3 1377.6,563.5 1379.9,565.8 1382.2,568.2 1384.4,570.6 1386.7,573.1 1388.9,575.7 1391.2,578.3 1393.4,581.0 1395.7,583.7 1397.9,586.5 1400.2,589.3 1402.4,592.1 1404.7,594.9 1406.9,597.7 1409.2,600.6 1411.4,603.4 1413.7,606.3 1416.0,609.1 1418.2,612.0 1420.5,614.8 1422.7,617.6 1425.0,620.5 1427.2,623.3 1429.5,626.1 1431.7,628.9 1434.0,631.7 1436.2,634.5 1438.5,637.2 1440.7,640.0 1443.0,642.7 1445.2,645.5 1447.5,648.2 1449.8,650.9 1452.0,653.5 1454.3,656.2 1456.5,658.8 1458.8,661.4 1461.0,664.0 1463.3,666.5 1465.5,669.1 1467.8,671.6 1470.0,674.0 1472.3,676.5 1474.5,678.9 1476.8,681.3 1479.0,683.6 1481.3,685.9 1483.6,688.2 1485.8,690.5 1488.1,692.7 1490.3,694.8 1492.6,697.0 1494.8,699.1 1497.1,701.1 1499.3,703.1 1501.6,705.1 1503.8,707.0 1506.1,708.9 1508.3,710.7 1510.6,712.4 1512.8,714.2 1515.1,715.8 1517.4,717.4 1519.6,719.0 1521.9,720.5 1524.1,721.8 1526.4,723.1 1528.6,724.3 1530.9,725.4 1533.1,726.4 1535.4,727.3 1537.6,728.0 1539.9,728.6 1542.1,729.1 1544.4,729.5 1546.6,729.7 1548.9,729.7 1551.1,729.6 1553.4,729.4 1555.7,729.0 1557.9,728.5 1560.2,727.8 1562.4,727.0 1564.7,726.0 1566.9,724.8 1569.2,723.5 1571.4,722.1 1573.7,720.4 1575.9,718.7 1578.2,716.7 1580.4,714.6 1582.7,712.4 1584.9,710.0 1587.2,707.5 1589.5,704.9 1591.7,702.0 1594.0,699.1 1596.2,696.0 1598.5,692.8 1600.7,689.5 1603.0,686.0 1605.2,682.4 1607.5,678.7 1609.7,674.9 1612.0,670.9 1614.2,666.9 1616.5,662.7 1618.7,658.4 1621.0,654.0 1629.8,637.8 1639.6,613.4 1646.4,593.8 1653.3,582.0 1659.1,579.1 1663.8,579.5 1664.5,628.0 1665.2,581.0 1667.0,582.0 1668.5,600.0" stroke="#ff2424"/>
<line x1="1667.6" y1="588" x2="1667.6" y2="627" stroke="#ffb0b0" stroke-width="1.6"/>
</g>
<line x1="271.3" y1="86" x2="271.3" y2="860" stroke="#acacac" stroke-width="6"/>
<line x1="268" y1="88.5" x2="1777" y2="88.5" stroke="#787878" stroke-width="3"/>
<line x1="274" y1="91.5" x2="1774" y2="91.5" stroke="#d0d0d0" stroke-width="3"/>
<line x1="268" y1="857.8" x2="1777" y2="857.8" stroke="#5a5a5a" stroke-width="3.2"/>
<line x1="274" y1="860.6" x2="1777" y2="860.6" stroke="#ededed" stroke-width="2"/>
<line x1="1775.5" y1="87" x2="1775.5" y2="859.5" stroke="#4a4a4a" stroke-width="3"/>
<line x1="1778.5" y1="87" x2="1778.5" y2="859.5" stroke="#f0f0f0" stroke-width="3"/>
<g stroke="#555" stroke-width="2.6" fill="none">
<line x1="369.4" y1="857" x2="369.4" y2="850.0"/>
<line x1="369.4" y1="89" x2="369.4" y2="98.5"/>
<line x1="438.9" y1="857" x2="438.9" y2="850.0"/>
<line x1="438.9" y1="89" x2="438.9" y2="98.5"/>
<line x1="492.9" y1="857" x2="492.9" y2="850.0"/>
<line x1="492.9" y1="89" x2="492.9" y2="98.5"/>
<line x1="537.0" y1="857" x2="537.0" y2="850.0"/>
<line x1="537.0" y1="89" x2="537.0" y2="98.5"/>
<line x1="574.3" y1="857" x2="574.3" y2="850.0"/>
<line x1="574.3" y1="89" x2="574.3" y2="98.5"/>
<line x1="606.6" y1="857" x2="606.6" y2="850.0"/>
<line x1="606.6" y1="89" x2="606.6" y2="98.5"/>
<line x1="635.1" y1="857" x2="635.1" y2="850.0"/>
<line x1="635.1" y1="89" x2="635.1" y2="98.5"/>
<line x1="660.6" y1="857" x2="660.6" y2="844.0"/>
<line x1="660.6" y1="89" x2="660.6" y2="104.5"/>
<line x1="828.3" y1="857" x2="828.3" y2="850.0"/>
<line x1="828.3" y1="89" x2="828.3" y2="98.5"/>
<line x1="926.4" y1="857" x2="926.4" y2="850.0"/>
<line x1="926.4" y1="89" x2="926.4" y2="98.5"/>
<line x1="995.9" y1="857" x2="995.9" y2="850.0"/>
<line x1="995.9" y1="89" x2="995.9" y2="98.5"/>
<line x1="1049.9" y1="857" x2="1049.9" y2="850.0"/>
<line x1="1049.9" y1="89" x2="1049.9" y2="98.5"/>
<line x1="1094.0" y1="857" x2="1094.0" y2="850.0"/>
<line x1="1094.0" y1="89" x2="1094.0" y2="98.5"/>
<line x1="1131.3" y1="857" x2="1131.3" y2="850.0"/>
<line x1="1131.3" y1="89" x2="1131.3" y2="98.5"/>
<line x1="1163.6" y1="857" x2="1163.6" y2="850.0"/>
<line x1="1163.6" y1="89" x2="1163.6" y2="98.5"/>
<line x1="1192.1" y1="857" x2="1192.1" y2="850.0"/>
<line x1="1192.1" y1="89" x2="1192.1" y2="98.5"/>
<line x1="1217.6" y1="857" x2="1217.6" y2="844.0"/>
<line x1="1217.6" y1="89" x2="1217.6" y2="104.5"/>
<line x1="1385.3" y1="857" x2="1385.3" y2="850.0"/>
<line x1="1385.3" y1="89" x2="1385.3" y2="98.5"/>
<line x1="1483.4" y1="857" x2="1483.4" y2="850.0"/>
<line x1="1483.4" y1="89" x2="1483.4" y2="98.5"/>
<line x1="1552.9" y1="857" x2="1552.9" y2="850.0"/>
<line x1="1552.9" y1="89" x2="1552.9" y2="98.5"/>
<line x1="1606.9" y1="857" x2="1606.9" y2="850.0"/>
<line x1="1606.9" y1="89" x2="1606.9" y2="98.5"/>
<line x1="1651.0" y1="857" x2="1651.0" y2="850.0"/>
<line x1="1651.0" y1="89" x2="1651.0" y2="98.5"/>
<line x1="1688.3" y1="857" x2="1688.3" y2="850.0"/>
<line x1="1688.3" y1="89" x2="1688.3" y2="98.5"/>
<line x1="1720.6" y1="857" x2="1720.6" y2="850.0"/>
<line x1="1720.6" y1="89" x2="1720.6" y2="98.5"/>
<line x1="1749.1" y1="857" x2="1749.1" y2="850.0"/>
<line x1="1749.1" y1="89" x2="1749.1" y2="98.5"/>
</g>
<g stroke="#8a8a8a" stroke-width="3" fill="none">
<line x1="271" y1="345.3" x2="286" y2="345.3"/>
<line x1="1775" y1="345.3" x2="1760" y2="345.3"/>
<line x1="271" y1="601.3" x2="286" y2="601.3"/>
<line x1="1775" y1="601.3" x2="1760" y2="601.3"/>
</g>
<rect x="303.5" y="533.5" width="243" height="308" fill="#fff" stroke="#5a5a5a" stroke-width="3"/>
<line x1="306" y1="536" x2="306" y2="840" stroke="#e4e4e4" stroke-width="1.5"/>
<g stroke-width="2.6">
<line x1="311" y1="572.5" x2="356" y2="572.5" stroke="#3c3cff"/>
<line x1="311" y1="649" x2="356" y2="649" stroke="#9cf89c" stroke-width="5"/>
<line x1="311" y1="725.5" x2="356" y2="725.5" stroke="#e4a450"/>
<line x1="311" y1="801.2" x2="356" y2="801.2" stroke="#ff5a5a"/>
</g>
<rect x="1224" y="146" width="485" height="246" fill="#fff"/>
<g clip-path="url(#ci)" fill="none" stroke-width="2.6" stroke-linejoin="round" stroke-linecap="round">
<polyline points="1224.5,184.4 1225.3,184.6 1226.2,184.8 1227.0,184.9 1227.8,185.1 1228.7,185.2 1229.5,185.4 1230.3,185.6 1231.2,185.7 1232.0,185.9 1232.8,186.0 1233.7,186.1 1234.5,186.3 1235.3,186.4 1236.2,186.6 1237.0,186.7 1237.8,186.9 1238.7,187.0 1239.5,187.1 1240.3,187.3 1241.2,187.4 1242.0,187.5 1242.8,187.6 1243.7,187.8 1244.5,187.9 1245.4,188.0 1246.2,188.1 1247.0,188.3 1247.9,188.4 1248.7,188.5 1249.5,188.6 1250.4,188.7 1251.2,188.8 1252.0,188.9 1252.9,189.0 1253.7,189.1 1254.5,189.2 1255.4,189.3 1256.2,189.4 1257.0,189.5 1257.9,189.6 1258.7,189.7 1259.5,189.8 1260.4,189.8 1261.2,189.9 1262.0,190.0 1262.9,190.1 1263.7,190.2 1264.5,190.2 1265.4,190.3 1266.2,190.4 1267.0,190.4 1267.9,190.5 1268.7,190.5 1269.5,190.6 1270.4,190.7 1271.2,190.7 1272.0,190.8 1272.9,190.8 1273.7,190.8 1274.5,190.9 1275.4,190.9 1276.2,191.0 1277.0,191.0 1277.9,191.0 1278.7,191.0 1279.5,191.1 1280.4,191.1 1281.2,191.1 1282.1,191.1 1282.9,191.1 1283.7,191.1 1284.6,191.1 1285.4,191.1 1286.2,191.1 1287.1,191.1 1287.9,191.1 1288.7,191.1 1289.6,191.1 1290.4,191.1 1291.2,191.1 1292.1,191.1 1292.9,191.0 1293.7,191.0 1294.6,191.0 1295.4,190.9 1296.2,190.9 1297.1,190.9 1297.9,190.8 1298.7,190.8 1299.6,190.7 1300.4,190.7 1301.2,190.6 1302.1,190.6 1302.9,190.5 1303.7,190.4 1304.6,190.3 1305.4,190.3 1306.2,190.2 1307.1,190.1 1307.9,190.0 1308.7,189.9 1309.6,189.8 1310.4,189.8 1311.2,189.7 1312.1,189.5 1312.9,189.4 1313.7,189.3 1314.6,189.2 1315.4,189.1 1316.2,189.0 1317.1,188.9 1317.9,188.7 1318.7,188.6 1319.6,188.5 1320.4,188.3 1321.3,188.2 1322.1,188.0 1322.9,187.9 1323.8,187.7 1324.6,187.6 1325.4,187.4 1326.3,187.3 1327.1,187.1 1327.9,187.0 1328.8,186.8 1329.6,186.6 1330.4,186.5 1331.3,186.3 1332.1,186.1 1332.9,186.0 1333.8,185.8 1334.6,185.6 1335.4,185.4 1336.3,185.3 1337.1,185.1 1337.9,184.9 1338.8,184.8 1339.6,184.6 1340.4,184.4 1341.3,184.2 1342.1,184.1 1342.9,183.9 1343.8,183.7 1344.6,183.6 1345.4,183.4 1346.3,183.2 1347.1,183.0 1347.9,182.9 1348.8,182.7 1349.6,182.6 1350.4,182.4 1351.3,182.2 1352.1,182.1 1352.9,181.9 1353.8,181.8 1354.6,181.6 1355.4,181.5 1356.3,181.3 1357.1,181.2 1358.0,181.0 1358.8,180.9 1359.6,180.8 1360.5,180.6 1361.3,180.5 1362.1,180.4 1363.0,180.3 1363.8,180.2 1364.6,180.1 1365.5,180.0 1366.3,179.9 1367.1,179.8 1368.0,179.8 1368.8,179.7 1369.6,179.6 1370.5,179.6 1371.3,179.6 1372.1,179.6 1373.0,179.5 1373.8,179.6 1374.6,179.6 1375.5,179.6 1376.3,179.6 1377.1,179.7 1378.0,179.8 1378.8,179.9 1379.6,180.0 1380.5,180.1 1381.3,180.2 1382.1,180.4 1383.0,180.5 1383.8,180.7 1384.6,180.9 1385.5,181.1 1386.3,181.4 1387.1,181.6 1388.0,181.9 1388.8,182.2 1389.6,182.5 1390.5,182.9 1391.3,183.2 1392.1,183.6 1393.0,184.0 1393.8,184.5 1394.6,184.9 1395.5,185.4 1396.3,185.9 1397.2,186.5 1398.0,187.0 1398.8,187.6 1399.7,188.2 1400.5,188.8 1401.3,189.5 1402.2,190.1 1403.0,190.8 1403.8,191.5 1404.7,192.2 1405.5,193.0 1406.3,193.7 1407.2,194.5 1408.0,195.3 1408.8,196.1 1409.7,197.0 1410.5,197.8 1411.3,198.7 1412.2,199.6 1413.0,200.5 1413.8,201.4 1414.7,202.3 1415.5,203.2 1416.3,204.1 1417.2,205.1 1418.0,206.1 1418.8,207.0 1419.7,208.0 1420.5,209.0 1421.3,210.0 1422.2,211.0 1423.0,212.0 1423.8,213.1 1424.7,214.1 1425.5,215.1 1426.3,216.2 1427.2,217.2 1428.0,218.3 1428.8,219.3 1429.7,220.4 1430.5,221.5 1431.3,222.5 1432.2,223.6 1433.0,224.7 1433.9,225.7 1434.7,226.8 1435.5,227.9 1436.4,228.9 1437.2,230.0 1438.0,231.1 1438.9,232.1 1439.7,233.2 1440.5,234.3 1441.4,235.3 1442.2,236.4 1443.0,237.4 1443.9,238.5 1444.7,239.5 1445.5,240.6 1446.4,241.6 1447.2,242.6 1448.0,243.7 1448.9,244.7 1449.7,245.7 1450.5,246.8 1451.4,247.8 1452.2,248.8 1453.0,249.8 1453.9,250.9 1454.7,251.9 1455.5,252.9 1456.4,253.9 1457.2,254.9 1458.0,255.9 1458.9,256.9 1459.7,258.0 1460.5,259.0 1461.4,260.0 1462.2,261.0 1463.0,262.0 1463.9,263.0 1464.7,264.0 1465.5,265.0 1466.4,266.0 1467.2,267.0 1468.0,267.9 1468.9,268.9 1469.7,269.9 1470.6,270.9 1471.4,271.9 1472.2,272.9 1473.1,273.9 1473.9,274.8 1474.7,275.8 1475.6,276.8 1476.4,277.8 1477.2,278.8 1478.1,279.7 1478.9,280.7 1479.7,281.7 1480.6,282.6 1481.4,283.6 1482.2,284.6 1483.1,285.6 1483.9,286.5 1484.7,287.5 1485.6,288.5 1486.4,289.4 1487.2,290.4 1488.1,291.3 1488.9,292.3 1489.7,293.3 1490.6,294.2 1491.4,295.2 1492.2,296.1 1493.1,297.1 1493.9,298.0 1494.7,299.0 1495.6,299.9 1496.4,300.8 1497.2,301.8 1498.1,302.7 1498.9,303.7 1499.7,304.6 1500.6,305.5 1501.4,306.4 1502.2,307.4 1503.1,308.3 1503.9,309.2 1504.7,310.1 1505.6,311.0 1506.4,312.0 1507.2,312.9 1508.1,313.8 1508.9,314.7 1509.8,315.6 1510.6,316.5 1511.4,317.4 1512.3,318.3 1513.1,319.1 1513.9,320.0 1514.8,320.9 1515.6,321.8 1516.4,322.7 1517.3,323.5 1518.1,324.4 1518.9,325.3 1519.8,326.1 1520.6,327.0 1521.4,327.8 1522.3,328.7 1523.1,329.5 1523.9,330.3 1524.8,331.2 1525.6,332.0 1526.4,332.8 1527.3,333.6 1528.1,334.5 1528.9,335.3 1529.8,336.1 1530.6,336.9 1531.4,337.7 1532.3,338.5 1533.1,339.3 1533.9,340.1 1534.8,340.8 1535.6,341.6 1536.4,342.4 1537.3,343.1 1538.1,343.9 1538.9,344.7 1539.8,345.4 1540.6,346.1 1541.4,346.9 1542.3,347.6 1543.1,348.3 1543.9,349.1 1544.8,349.8 1545.6,350.5 1546.5,351.2 1547.3,351.9 1548.1,352.6 1549.0,353.3 1549.8,354.0 1550.6,354.6 1551.5,355.3 1552.3,356.0 1553.1,356.6 1554.0,357.3 1554.8,357.9 1555.6,358.5 1556.5,359.2 1557.3,359.8 1558.1,360.4 1559.0,361.0 1559.8,361.6 1560.6,362.2 1561.5,362.8 1562.3,363.4 1563.1,364.0 1564.0,364.6 1564.8,365.1 1565.6,365.7 1566.5,366.2 1567.3,366.8 1568.1,367.3 1569.0,367.8 1569.8,368.3 1570.6,368.9 1571.5,369.4 1572.3,369.8 1573.1,370.3 1574.0,370.8 1574.8,371.3 1575.6,371.7 1576.5,372.1 1577.3,372.5 1578.1,372.9 1579.0,373.3 1579.8,373.7 1580.6,374.1 1581.5,374.4 1582.3,374.7 1583.1,375.0 1584.0,375.3 1584.8,375.6 1585.7,375.9 1586.5,376.1 1587.3,376.3 1588.2,376.5 1589.0,376.7 1589.8,376.8 1590.7,376.9 1591.5,377.0 1592.3,377.1 1593.2,377.2 1594.0,377.2 1594.8,377.2 1595.7,377.2 1596.5,377.1 1597.3,377.1 1598.2,377.0 1599.0,376.8 1599.8,376.7 1600.7,376.5 1601.5,376.3 1602.3,376.0 1603.2,375.8 1604.0,375.4 1604.8,375.1 1605.7,374.7 1606.5,374.3 1607.3,373.9 1608.2,373.4 1609.0,372.9 1609.8,372.3 1610.7,371.8 1611.5,371.1 1612.3,370.5 1613.2,369.8 1614.0,369.1 1614.8,368.3 1615.7,367.5 1616.5,366.7 1617.3,365.8 1618.2,364.9 1619.0,364.0 1619.8,363.0 1620.7,362.0 1621.5,360.9 1622.4,359.9 1623.2,358.7 1624.0,357.6 1624.9,356.4 1625.7,355.2 1626.5,353.9 1627.4,352.6 1628.2,351.3 1629.0,349.9 1629.9,348.5 1630.7,347.0 1631.5,345.5 1632.4,344.0 1633.2,342.5 1634.0,340.9 1634.9,339.2 1635.7,337.5 1636.5,335.8 1637.4,334.1 1638.2,332.3 1639.0,330.5 1639.9,328.6 1640.7,326.7 1645.4,317.8 1652.6,299.3 1660.8,266.4 1664.9,258.2 1668.0,243.8 1672.1,235.6 1675.2,221.5 1677.5,232.0 1672.5,238.5 1679.3,236.0 1684.0,238.0 1688.0,245.0 1692.5,266.4 1694.7,275.6" stroke="#1e1eff"/>
<polyline points="1224.5,194.2 1225.3,194.2 1226.2,194.2 1227.0,194.2 1227.8,194.2 1228.7,194.2 1229.5,194.2 1230.3,194.3 1231.2,194.3 1232.0,194.3 1232.8,194.3 1233.7,194.4 1234.5,194.4 1235.4,194.4 1236.2,194.5 1237.0,194.5 1237.9,194.5 1238.7,194.6 1239.5,194.6 1240.4,194.7 1241.2,194.7 1242.0,194.8 1242.9,194.8 1243.7,194.9 1244.5,194.9 1245.4,195.0 1246.2,195.1 1247.0,195.1 1247.9,195.2 1248.7,195.2 1249.5,195.3 1250.4,195.4 1251.2,195.4 1252.0,195.5 1252.9,195.6 1253.7,195.6 1254.5,195.7 1255.4,195.8 1256.2,195.8 1257.1,195.9 1257.9,196.0 1258.7,196.0 1259.6,196.1 1260.4,196.2 1261.2,196.3 1262.1,196.3 1262.9,196.4 1263.7,196.5 1264.6,196.5 1265.4,196.6 1266.2,196.7 1267.1,196.7 1267.9,196.8 1268.7,196.9 1269.6,197.0 1270.4,197.0 1271.2,197.1 1272.1,197.1 1272.9,197.2 1273.7,197.3 1274.6,197.3 1275.4,197.4 1276.2,197.5 1277.1,197.5 1277.9,197.6 1278.8,197.6 1279.6,197.7 1280.4,197.7 1281.3,197.8 1282.1,197.8 1282.9,197.9 1283.8,197.9 1284.6,197.9 1285.4,198.0 1286.3,198.0 1287.1,198.0 1287.9,198.1 1288.8,198.1 1289.6,198.1 1290.4,198.2 1291.3,198.2 1292.1,198.2 1292.9,198.2 1293.8,198.2 1294.6,198.2 1295.4,198.2 1296.3,198.2 1297.1,198.2 1298.0,198.2 1298.8,198.2 1299.6,198.2 1300.5,198.2 1301.3,198.2 1302.1,198.1 1303.0,198.1 1303.8,198.1 1304.6,198.1 1305.5,198.0 1306.3,198.0 1307.1,197.9 1308.0,197.9 1308.8,197.8 1309.6,197.8 1310.5,197.7 1311.3,197.6 1312.1,197.6 1313.0,197.5 1313.8,197.4 1314.6,197.3 1315.5,197.2 1316.3,197.1 1317.1,197.0 1318.0,196.9 1318.8,196.8 1319.7,196.7 1320.5,196.6 1321.3,196.5 1322.2,196.4 1323.0,196.2 1323.8,196.1 1324.7,196.0 1325.5,195.8 1326.3,195.7 1327.2,195.6 1328.0,195.4 1328.8,195.3 1329.7,195.1 1330.5,195.0 1331.3,194.9 1332.2,194.7 1333.0,194.5 1333.8,194.4 1334.7,194.2 1335.5,194.1 1336.3,193.9 1337.2,193.8 1338.0,193.6 1338.8,193.4 1339.7,193.3 1340.5,193.1 1341.4,192.9 1342.2,192.8 1343.0,192.6 1343.9,192.4 1344.7,192.2 1345.5,192.1 1346.4,191.9 1347.2,191.7 1348.0,191.6 1348.9,191.4 1349.7,191.2 1350.5,191.0 1351.4,190.9 1352.2,190.7 1353.0,190.5 1353.9,190.4 1354.7,190.2 1355.5,190.0 1356.4,189.9 1357.2,189.7 1358.0,189.5 1358.9,189.4 1359.7,189.2 1360.6,189.1 1361.4,188.9 1362.2,188.8 1363.1,188.6 1363.9,188.5 1364.7,188.4 1365.6,188.3 1366.4,188.1 1367.2,188.0 1368.1,188.0 1368.9,187.9 1369.7,187.8 1370.6,187.7 1371.4,187.7 1372.2,187.7 1373.1,187.6 1373.9,187.6 1374.7,187.6 1375.6,187.6 1376.4,187.7 1377.2,187.7 1378.1,187.8 1378.9,187.8 1379.7,187.9 1380.6,188.0 1381.4,188.2 1382.3,188.3 1383.1,188.5 1383.9,188.7 1384.8,188.9 1385.6,189.1 1386.4,189.3 1387.3,189.6 1388.1,189.9 1388.9,190.2 1389.8,190.5 1390.6,190.9 1391.4,191.3 1392.3,191.7 1393.1,192.1 1393.9,192.5 1394.8,193.0 1395.6,193.5 1396.4,194.0 1397.3,194.5 1398.1,195.0 1398.9,195.6 1399.8,196.2 1400.6,196.7 1401.4,197.4 1402.3,198.0 1403.1,198.6 1404.0,199.3 1404.8,200.0 1405.6,200.7 1406.5,201.4 1407.3,202.1 1408.1,202.9 1409.0,203.6 1409.8,204.4 1410.6,205.2 1411.5,206.0 1412.3,206.8 1413.1,207.7 1414.0,208.5 1414.8,209.4 1415.6,210.2 1416.5,211.1 1417.3,212.0 1418.1,212.9 1419.0,213.8 1419.8,214.7 1420.6,215.7 1421.5,216.6 1422.3,217.6 1423.2,218.5 1424.0,219.5 1424.8,220.5 1425.7,221.5 1426.5,222.5 1427.3,223.5 1428.2,224.5 1429.0,225.5 1429.8,226.5 1430.7,227.6 1431.5,228.6 1432.3,229.7 1433.2,230.7 1434.0,231.8 1434.8,232.8 1435.7,233.9 1436.5,235.0 1437.3,236.0 1438.2,237.1 1439.0,238.2 1439.8,239.3 1440.7,240.4 1441.5,241.4 1442.3,242.5 1443.2,243.6 1444.0,244.7 1444.9,245.8 1445.7,246.9 1446.5,248.0 1447.4,249.1 1448.2,250.2 1449.0,251.3 1449.9,252.4 1450.7,253.5 1451.5,254.6 1452.4,255.7 1453.2,256.8 1454.0,257.9 1454.9,259.0 1455.7,260.1 1456.5,261.2 1457.4,262.3 1458.2,263.4 1459.0,264.5 1459.9,265.6 1460.7,266.6 1461.5,267.7 1462.4,268.8 1463.2,269.9 1464.1,271.0 1464.9,272.0 1465.7,273.1 1466.6,274.2 1467.4,275.2 1468.2,276.3 1469.1,277.4 1469.9,278.4 1470.7,279.5 1471.6,280.5 1472.4,281.5 1473.2,282.6 1474.1,283.6 1474.9,284.6 1475.7,285.6 1476.6,286.6 1477.4,287.6 1478.2,288.6 1479.1,289.6 1479.9,290.6 1480.7,291.6 1481.6,292.6 1482.4,293.5 1483.2,294.5 1484.1,295.4 1484.9,296.4 1485.8,297.3 1486.6,298.2 1487.4,299.2 1488.3,300.1 1489.1,301.0 1489.9,301.9 1490.8,302.8 1491.6,303.7 1492.4,304.6 1493.3,305.5 1494.1,306.3 1494.9,307.2 1495.8,308.1 1496.6,309.0 1497.4,309.8 1498.3,310.7 1499.1,311.5 1499.9,312.4 1500.8,313.2 1501.6,314.1 1502.4,314.9 1503.3,315.7 1504.1,316.6 1504.9,317.4 1505.8,318.2 1506.6,319.0 1507.5,319.8 1508.3,320.7 1509.1,321.5 1510.0,322.3 1510.8,323.1 1511.6,323.9 1512.5,324.7 1513.3,325.5 1514.1,326.3 1515.0,327.1 1515.8,327.9 1516.6,328.7 1517.5,329.5 1518.3,330.3 1519.1,331.1 1520.0,331.9 1520.8,332.7 1521.6,333.5 1522.5,334.2 1523.3,335.0 1524.1,335.8 1525.0,336.6 1525.8,337.4 1526.7,338.2 1527.5,339.0 1528.3,339.8 1529.2,340.6 1530.0,341.4 1530.8,342.2 1531.7,343.0 1532.5,343.8 1533.3,344.6 1534.2,345.4 1535.0,346.2 1535.8,347.0 1536.7,347.8 1537.5,348.6 1538.3,349.4 1539.2,350.2 1540.0,351.0 1540.8,351.8 1541.7,352.6 1542.5,353.3 1543.3,354.1 1544.2,354.9 1545.0,355.7 1545.8,356.5 1546.7,357.3 1547.5,358.0 1548.4,358.8 1549.2,359.5 1550.0,360.3 1550.9,361.0 1551.7,361.8 1552.5,362.5 1553.4,363.2 1554.2,363.9 1555.0,364.6 1555.9,365.3 1556.7,366.0 1557.5,366.6 1558.4,367.3 1559.2,368.0 1560.0,368.6 1560.9,369.2 1561.7,369.8 1562.5,370.4 1563.4,371.0 1564.2,371.6 1565.0,372.1 1565.9,372.7 1566.7,373.2 1567.5,373.7 1568.4,374.2 1569.2,374.7 1570.1,375.1 1570.9,375.6 1571.7,376.0 1572.6,376.4 1573.4,376.8 1574.2,377.1 1575.1,377.5 1575.9,377.8 1576.7,378.1 1577.6,378.4 1578.4,378.7 1579.2,378.9 1580.1,379.1 1580.9,379.3 1581.7,379.5 1582.6,379.7 1583.4,379.8 1584.2,379.9 1585.1,380.0 1585.9,380.1 1586.7,380.1 1587.6,380.2 1588.4,380.2 1589.3,380.2 1590.1,380.1 1590.9,380.1 1591.8,380.0 1592.6,379.9 1593.4,379.7 1594.3,379.6 1595.1,379.4 1595.9,379.2 1596.8,378.9 1597.6,378.7 1598.4,378.4 1599.3,378.1 1600.1,377.8 1600.9,377.4 1601.8,377.0 1602.6,376.6 1603.4,376.2 1604.3,375.7 1605.1,375.2 1605.9,374.7 1606.8,374.1 1607.6,373.6 1608.4,373.0 1609.3,372.4 1610.1,371.7 1611.0,371.0 1611.8,370.3 1612.6,369.6 1613.5,368.8 1614.3,368.0 1615.1,367.2 1616.0,366.4 1616.8,365.5 1617.6,364.6 1618.5,363.7 1619.3,362.7 1620.1,361.8 1621.0,360.8 1621.8,359.7 1622.6,358.7 1623.5,357.6 1624.3,356.5 1625.1,355.4 1626.0,354.2 1626.8,353.1 1627.6,351.8 1628.5,350.6 1629.3,349.4 1630.1,348.1 1631.0,346.8 1631.8,345.5 1632.7,344.1 1633.5,342.7 1634.3,341.3 1635.2,339.9 1636.0,338.4 1636.8,337.0 1637.7,335.5 1638.5,333.9 1639.3,332.4 1640.2,330.8 1641.0,329.2 1648.0,312.0 1653.0,298.0 1658.8,281.8 1663.9,266.4 1669.1,254.1 1673.2,242.7 1679.3,240.7 1685.5,239.2 1688.6,242.7 1691.7,251.0 1693.7,262.3" stroke="#22ee22"/>
<polyline points="1224.5,200.2 1225.3,200.2 1226.2,200.3 1227.0,200.4 1227.8,200.5 1228.7,200.6 1229.5,200.7 1230.3,200.7 1231.2,200.8 1232.0,200.9 1232.8,201.0 1233.7,201.1 1234.5,201.2 1235.4,201.3 1236.2,201.4 1237.0,201.5 1237.9,201.6 1238.7,201.7 1239.5,201.8 1240.4,201.9 1241.2,202.0 1242.0,202.1 1242.9,202.2 1243.7,202.3 1244.5,202.4 1245.4,202.6 1246.2,202.7 1247.0,202.8 1247.9,202.9 1248.7,203.0 1249.5,203.1 1250.4,203.2 1251.2,203.3 1252.0,203.4 1252.9,203.5 1253.7,203.6 1254.5,203.7 1255.4,203.9 1256.2,204.0 1257.1,204.1 1257.9,204.2 1258.7,204.3 1259.6,204.4 1260.4,204.5 1261.2,204.6 1262.1,204.7 1262.9,204.8 1263.7,204.9 1264.6,205.0 1265.4,205.1 1266.2,205.2 1267.1,205.3 1267.9,205.4 1268.7,205.5 1269.6,205.6 1270.4,205.7 1271.2,205.8 1272.1,205.8 1272.9,205.9 1273.7,206.0 1274.6,206.1 1275.4,206.2 1276.2,206.3 1277.1,206.3 1277.9,206.4 1278.8,206.5 1279.6,206.6 1280.4,206.6 1281.3,206.7 1282.1,206.8 1282.9,206.8 1283.8,206.9 1284.6,206.9 1285.4,207.0 1286.3,207.0 1287.1,207.1 1287.9,207.1 1288.8,207.2 1289.6,207.2 1290.4,207.3 1291.3,207.3 1292.1,207.3 1292.9,207.4 1293.8,207.4 1294.6,207.4 1295.4,207.4 1296.3,207.4 1297.1,207.4 1298.0,207.5 1298.8,207.5 1299.6,207.5 1300.5,207.5 1301.3,207.4 1302.1,207.4 1303.0,207.4 1303.8,207.4 1304.6,207.4 1305.5,207.4 1306.3,207.3 1307.1,207.3 1308.0,207.2 1308.8,207.2 1309.6,207.2 1310.5,207.1 1311.3,207.0 1312.1,207.0 1313.0,206.9 1313.8,206.8 1314.6,206.8 1315.5,206.7 1316.3,206.6 1317.1,206.5 1318.0,206.4 1318.8,206.3 1319.7,206.2 1320.5,206.1 1321.3,206.0 1322.2,205.9 1323.0,205.7 1323.8,205.6 1324.7,205.5 1325.5,205.3 1326.3,205.2 1327.2,205.0 1328.0,204.9 1328.8,204.7 1329.7,204.6 1330.5,204.4 1331.3,204.2 1332.2,204.1 1333.0,203.9 1333.8,203.7 1334.7,203.5 1335.5,203.4 1336.3,203.2 1337.2,203.0 1338.0,202.8 1338.8,202.7 1339.7,202.5 1340.5,202.3 1341.4,202.1 1342.2,201.9 1343.0,201.8 1343.9,201.6 1344.7,201.4 1345.5,201.2 1346.4,201.0 1347.2,200.9 1348.0,200.7 1348.9,200.5 1349.7,200.4 1350.5,200.2 1351.4,200.0 1352.2,199.9 1353.0,199.7 1353.9,199.6 1354.7,199.4 1355.5,199.3 1356.4,199.1 1357.2,199.0 1358.0,198.8 1358.9,198.7 1359.7,198.6 1360.6,198.5 1361.4,198.3 1362.2,198.2 1363.1,198.1 1363.9,198.0 1364.7,197.9 1365.6,197.9 1366.4,197.8 1367.2,197.7 1368.1,197.6 1368.9,197.6 1369.7,197.5 1370.6,197.5 1371.4,197.5 1372.2,197.4 1373.1,197.4 1373.9,197.4 1374.7,197.4 1375.6,197.4 1376.4,197.4 1377.2,197.5 1378.1,197.5 1378.9,197.6 1379.7,197.6 1380.6,197.7 1381.4,197.8 1382.3,197.9 1383.1,198.0 1383.9,198.1 1384.8,198.2 1385.6,198.4 1386.4,198.5 1387.3,198.7 1388.1,198.9 1388.9,199.1 1389.8,199.3 1390.6,199.6 1391.4,199.8 1392.3,200.1 1393.1,200.4 1393.9,200.7 1394.8,201.1 1395.6,201.4 1396.4,201.8 1397.3,202.2 1398.1,202.6 1398.9,203.1 1399.8,203.5 1400.6,204.0 1401.4,204.5 1402.3,205.1 1403.1,205.6 1404.0,206.2 1404.8,206.8 1405.6,207.4 1406.5,208.0 1407.3,208.7 1408.1,209.4 1409.0,210.0 1409.8,210.8 1410.6,211.5 1411.5,212.2 1412.3,213.0 1413.1,213.7 1414.0,214.5 1414.8,215.3 1415.6,216.1 1416.5,217.0 1417.3,217.8 1418.1,218.7 1419.0,219.6 1419.8,220.4 1420.6,221.3 1421.5,222.2 1422.3,223.2 1423.2,224.1 1424.0,225.0 1424.8,226.0 1425.7,226.9 1426.5,227.9 1427.3,228.9 1428.2,229.9 1429.0,230.9 1429.8,231.9 1430.7,232.9 1431.5,233.9 1432.3,234.9 1433.2,235.9 1434.0,237.0 1434.8,238.0 1435.7,239.1 1436.5,240.1 1437.3,241.2 1438.2,242.2 1439.0,243.3 1439.8,244.3 1440.7,245.4 1441.5,246.5 1442.3,247.5 1443.2,248.6 1444.0,249.7 1444.9,250.7 1445.7,251.8 1446.5,252.9 1447.4,254.0 1448.2,255.0 1449.0,256.1 1449.9,257.2 1450.7,258.3 1451.5,259.3 1452.4,260.4 1453.2,261.5 1454.0,262.6 1454.9,263.7 1455.7,264.7 1456.5,265.8 1457.4,266.9 1458.2,268.0 1459.0,269.0 1459.9,270.1 1460.7,271.2 1461.5,272.2 1462.4,273.3 1463.2,274.4 1464.1,275.4 1464.9,276.5 1465.7,277.5 1466.6,278.6 1467.4,279.6 1468.2,280.7 1469.1,281.7 1469.9,282.7 1470.7,283.8 1471.6,284.8 1472.4,285.8 1473.2,286.9 1474.1,287.9 1474.9,288.9 1475.7,289.9 1476.6,290.9 1477.4,291.9 1478.2,292.9 1479.1,293.9 1479.9,294.8 1480.7,295.8 1481.6,296.8 1482.4,297.7 1483.2,298.7 1484.1,299.6 1484.9,300.6 1485.8,301.5 1486.6,302.5 1487.4,303.4 1488.3,304.3 1489.1,305.2 1489.9,306.1 1490.8,307.0 1491.6,308.0 1492.4,308.8 1493.3,309.7 1494.1,310.6 1494.9,311.5 1495.8,312.4 1496.6,313.3 1497.4,314.1 1498.3,315.0 1499.1,315.9 1499.9,316.7 1500.8,317.6 1501.6,318.5 1502.4,319.3 1503.3,320.2 1504.1,321.0 1504.9,321.8 1505.8,322.7 1506.6,323.5 1507.5,324.4 1508.3,325.2 1509.1,326.0 1510.0,326.9 1510.8,327.7 1511.6,328.5 1512.5,329.3 1513.3,330.1 1514.1,331.0 1515.0,331.8 1515.8,332.6 1516.6,333.4 1517.5,334.2 1518.3,335.0 1519.1,335.9 1520.0,336.7 1520.8,337.5 1521.6,338.3 1522.5,339.1 1523.3,339.9 1524.1,340.7 1525.0,341.5 1525.8,342.3 1526.7,343.2 1527.5,344.0 1528.3,344.8 1529.2,345.6 1530.0,346.4 1530.8,347.2 1531.7,348.0 1532.5,348.8 1533.3,349.7 1534.2,350.5 1535.0,351.3 1535.8,352.1 1536.7,352.9 1537.5,353.7 1538.3,354.6 1539.2,355.4 1540.0,356.2 1540.8,357.0 1541.7,357.8 1542.5,358.6 1543.3,359.4 1544.2,360.2 1545.0,361.0 1545.8,361.8 1546.7,362.5 1547.5,363.3 1548.4,364.1 1549.2,364.8 1550.0,365.6 1550.9,366.3 1551.7,367.0 1552.5,367.8 1553.4,368.5 1554.2,369.2 1555.0,369.8 1555.9,370.5 1556.7,371.2 1557.5,371.8 1558.4,372.4 1559.2,373.1 1560.0,373.7 1560.9,374.3 1561.7,374.8 1562.5,375.4 1563.4,375.9 1564.2,376.5 1565.0,377.0 1565.9,377.4 1566.7,377.9 1567.5,378.4 1568.4,378.8 1569.2,379.2 1570.1,379.6 1570.9,380.0 1571.7,380.3 1572.6,380.6 1573.4,380.9 1574.2,381.2 1575.1,381.5 1575.9,381.7 1576.7,381.9 1577.6,382.1 1578.4,382.2 1579.2,382.4 1580.1,382.5 1580.9,382.6 1581.7,382.7 1582.6,382.7 1583.4,382.7 1584.2,382.7 1585.1,382.7 1585.9,382.6 1586.7,382.6 1587.6,382.5 1588.4,382.3 1589.3,382.2 1590.1,382.0 1590.9,381.8 1591.8,381.6 1592.6,381.4 1593.4,381.1 1594.3,380.9 1595.1,380.6 1595.9,380.2 1596.8,379.9 1597.6,379.5 1598.4,379.1 1599.3,378.7 1600.1,378.3 1600.9,377.8 1601.8,377.3 1602.6,376.8 1603.4,376.3 1604.3,375.7 1605.1,375.2 1605.9,374.6 1606.8,373.9 1607.6,373.3 1608.4,372.6 1609.3,372.0 1610.1,371.3 1611.0,370.5 1611.8,369.8 1612.6,369.0 1613.5,368.2 1614.3,367.4 1615.1,366.6 1616.0,365.7 1616.8,364.8 1617.6,363.9 1618.5,363.0 1619.3,362.1 1620.1,361.1 1621.0,360.1 1621.8,359.1 1622.6,358.1 1623.5,357.0 1624.3,356.0 1625.1,354.9 1626.0,353.7 1626.8,352.6 1627.6,351.5 1628.5,350.3 1629.3,349.1 1630.1,347.9 1631.0,346.6 1631.8,345.4 1632.7,344.1 1633.5,342.8 1634.3,341.5 1635.2,340.1 1636.0,338.7 1636.8,337.4 1637.7,336.0 1638.5,334.5 1639.3,333.1 1640.2,331.6 1641.0,330.1 1648.0,312.0 1653.0,298.0 1658.8,283.0 1664.0,268.0 1669.0,256.0 1674.0,247.0 1679.5,243.0 1685.5,241.5 1689.0,245.0 1691.5,253.0 1692.5,262.0" stroke="#e08a2a"/>
<polyline points="1224.5,208.6 1225.3,208.8 1226.2,208.9 1227.0,209.1 1227.8,209.2 1228.7,209.4 1229.5,209.5 1230.3,209.7 1231.2,209.8 1232.0,209.9 1232.8,210.1 1233.7,210.2 1234.5,210.4 1235.4,210.5 1236.2,210.6 1237.0,210.8 1237.9,210.9 1238.7,211.0 1239.5,211.2 1240.4,211.3 1241.2,211.4 1242.0,211.5 1242.9,211.7 1243.7,211.8 1244.5,211.9 1245.4,212.0 1246.2,212.2 1247.0,212.3 1247.9,212.4 1248.7,212.5 1249.5,212.6 1250.4,212.7 1251.2,212.9 1252.0,213.0 1252.9,213.1 1253.7,213.2 1254.5,213.3 1255.4,213.4 1256.2,213.5 1257.1,213.6 1257.9,213.7 1258.7,213.8 1259.6,213.9 1260.4,214.0 1261.2,214.1 1262.1,214.2 1262.9,214.3 1263.7,214.4 1264.6,214.5 1265.4,214.6 1266.2,214.6 1267.1,214.7 1267.9,214.8 1268.7,214.9 1269.6,215.0 1270.4,215.0 1271.2,215.1 1272.1,215.2 1272.9,215.3 1273.7,215.3 1274.6,215.4 1275.4,215.5 1276.2,215.5 1277.1,215.6 1277.9,215.7 1278.8,215.7 1279.6,215.8 1280.4,215.8 1281.3,215.9 1282.1,215.9 1282.9,216.0 1283.8,216.0 1284.6,216.1 1285.4,216.1 1286.3,216.1 1287.1,216.2 1287.9,216.2 1288.8,216.2 1289.6,216.3 1290.4,216.3 1291.3,216.3 1292.1,216.4 1292.9,216.4 1293.8,216.4 1294.6,216.4 1295.4,216.4 1296.3,216.4 1297.1,216.5 1298.0,216.5 1298.8,216.5 1299.6,216.5 1300.5,216.5 1301.3,216.5 1302.1,216.5 1303.0,216.5 1303.8,216.4 1304.6,216.4 1305.5,216.4 1306.3,216.4 1307.1,216.4 1308.0,216.4 1308.8,216.3 1309.6,216.3 1310.5,216.3 1311.3,216.2 1312.1,216.2 1313.0,216.2 1313.8,216.1 1314.6,216.1 1315.5,216.0 1316.3,216.0 1317.1,215.9 1318.0,215.9 1318.8,215.8 1319.7,215.8 1320.5,215.7 1321.3,215.6 1322.2,215.6 1323.0,215.5 1323.8,215.4 1324.7,215.3 1325.5,215.3 1326.3,215.2 1327.2,215.1 1328.0,215.0 1328.8,214.9 1329.7,214.8 1330.5,214.7 1331.3,214.6 1332.2,214.5 1333.0,214.4 1333.8,214.3 1334.7,214.2 1335.5,214.1 1336.3,214.0 1337.2,213.9 1338.0,213.8 1338.8,213.7 1339.7,213.6 1340.5,213.5 1341.4,213.4 1342.2,213.3 1343.0,213.2 1343.9,213.0 1344.7,212.9 1345.5,212.8 1346.4,212.7 1347.2,212.6 1348.0,212.5 1348.9,212.4 1349.7,212.3 1350.5,212.2 1351.4,212.1 1352.2,212.0 1353.0,211.8 1353.9,211.7 1354.7,211.6 1355.5,211.5 1356.4,211.4 1357.2,211.3 1358.0,211.3 1358.9,211.2 1359.7,211.1 1360.6,211.0 1361.4,210.9 1362.2,210.8 1363.1,210.7 1363.9,210.7 1364.7,210.6 1365.6,210.5 1366.4,210.5 1367.2,210.4 1368.1,210.3 1368.9,210.3 1369.7,210.2 1370.6,210.2 1371.4,210.1 1372.2,210.1 1373.1,210.0 1373.9,210.0 1374.7,210.0 1375.6,210.0 1376.4,209.9 1377.2,209.9 1378.1,209.9 1378.9,209.9 1379.7,209.9 1380.6,209.9 1381.4,209.9 1382.3,210.0 1383.1,210.0 1383.9,210.0 1384.8,210.1 1385.6,210.1 1386.4,210.2 1387.3,210.3 1388.1,210.4 1388.9,210.5 1389.8,210.6 1390.6,210.7 1391.4,210.9 1392.3,211.1 1393.1,211.2 1393.9,211.4 1394.8,211.6 1395.6,211.9 1396.4,212.1 1397.3,212.4 1398.1,212.7 1398.9,213.0 1399.8,213.4 1400.6,213.7 1401.4,214.1 1402.3,214.5 1403.1,214.9 1404.0,215.4 1404.8,215.9 1405.6,216.4 1406.5,216.9 1407.3,217.4 1408.1,218.0 1409.0,218.6 1409.8,219.2 1410.6,219.8 1411.5,220.4 1412.3,221.1 1413.1,221.8 1414.0,222.5 1414.8,223.2 1415.6,223.9 1416.5,224.7 1417.3,225.5 1418.1,226.2 1419.0,227.0 1419.8,227.9 1420.6,228.7 1421.5,229.5 1422.3,230.4 1423.2,231.3 1424.0,232.1 1424.8,233.0 1425.7,234.0 1426.5,234.9 1427.3,235.8 1428.2,236.7 1429.0,237.7 1429.8,238.7 1430.7,239.6 1431.5,240.6 1432.3,241.6 1433.2,242.6 1434.0,243.6 1434.8,244.6 1435.7,245.6 1436.5,246.6 1437.3,247.6 1438.2,248.7 1439.0,249.7 1439.8,250.7 1440.7,251.8 1441.5,252.8 1442.3,253.9 1443.2,254.9 1444.0,256.0 1444.9,257.0 1445.7,258.1 1446.5,259.1 1447.4,260.2 1448.2,261.2 1449.0,262.3 1449.9,263.3 1450.7,264.4 1451.5,265.4 1452.4,266.5 1453.2,267.5 1454.0,268.6 1454.9,269.6 1455.7,270.7 1456.5,271.7 1457.4,272.8 1458.2,273.8 1459.0,274.9 1459.9,275.9 1460.7,276.9 1461.5,278.0 1462.4,279.0 1463.2,280.1 1464.1,281.1 1464.9,282.1 1465.7,283.2 1466.6,284.2 1467.4,285.2 1468.2,286.2 1469.1,287.3 1469.9,288.3 1470.7,289.3 1471.6,290.3 1472.4,291.3 1473.2,292.3 1474.1,293.3 1474.9,294.4 1475.7,295.4 1476.6,296.4 1477.4,297.4 1478.2,298.4 1479.1,299.3 1479.9,300.3 1480.7,301.3 1481.6,302.3 1482.4,303.3 1483.2,304.3 1484.1,305.3 1484.9,306.2 1485.8,307.2 1486.6,308.2 1487.4,309.1 1488.3,310.1 1489.1,311.0 1489.9,312.0 1490.8,312.9 1491.6,313.9 1492.4,314.8 1493.3,315.8 1494.1,316.7 1494.9,317.6 1495.8,318.6 1496.6,319.5 1497.4,320.4 1498.3,321.3 1499.1,322.2 1499.9,323.2 1500.8,324.1 1501.6,325.0 1502.4,325.9 1503.3,326.8 1504.1,327.7 1504.9,328.6 1505.8,329.4 1506.6,330.3 1507.5,331.2 1508.3,332.1 1509.1,333.0 1510.0,333.8 1510.8,334.7 1511.6,335.6 1512.5,336.4 1513.3,337.3 1514.1,338.1 1515.0,339.0 1515.8,339.8 1516.6,340.7 1517.5,341.5 1518.3,342.4 1519.1,343.2 1520.0,344.0 1520.8,344.8 1521.6,345.7 1522.5,346.5 1523.3,347.3 1524.1,348.1 1525.0,348.9 1525.8,349.8 1526.7,350.6 1527.5,351.4 1528.3,352.2 1529.2,353.0 1530.0,353.8 1530.8,354.5 1531.7,355.3 1532.5,356.1 1533.3,356.9 1534.2,357.7 1535.0,358.5 1535.8,359.2 1536.7,360.0 1537.5,360.8 1538.3,361.5 1539.2,362.3 1540.0,363.1 1540.8,363.8 1541.7,364.6 1542.5,365.3 1543.3,366.1 1544.2,366.8 1545.0,367.5 1545.8,368.3 1546.7,369.0 1547.5,369.7 1548.4,370.4 1549.2,371.1 1550.0,371.8 1550.9,372.5 1551.7,373.1 1552.5,373.8 1553.4,374.4 1554.2,375.1 1555.0,375.7 1555.9,376.3 1556.7,376.9 1557.5,377.4 1558.4,378.0 1559.2,378.6 1560.0,379.1 1560.9,379.6 1561.7,380.1 1562.5,380.6 1563.4,381.1 1564.2,381.5 1565.0,381.9 1565.9,382.3 1566.7,382.7 1567.5,383.1 1568.4,383.4 1569.2,383.7 1570.1,384.0 1570.9,384.3 1571.7,384.5 1572.6,384.8 1573.4,385.0 1574.2,385.1 1575.1,385.3 1575.9,385.4 1576.7,385.5 1577.6,385.6 1578.4,385.6 1579.2,385.6 1580.1,385.6 1580.9,385.6 1581.7,385.5 1582.6,385.5 1583.4,385.4 1584.2,385.2 1585.1,385.1 1585.9,384.9 1586.7,384.7 1587.6,384.5 1588.4,384.3 1589.3,384.0 1590.1,383.7 1590.9,383.4 1591.8,383.1 1592.6,382.7 1593.4,382.3 1594.3,381.9 1595.1,381.5 1595.9,381.1 1596.8,380.6 1597.6,380.1 1598.4,379.6 1599.3,379.1 1600.1,378.6 1600.9,378.0 1601.8,377.4 1602.6,376.8 1603.4,376.2 1604.3,375.6 1605.1,374.9 1605.9,374.3 1606.8,373.6 1607.6,372.9 1608.4,372.1 1609.3,371.4 1610.1,370.6 1611.0,369.9 1611.8,369.1 1612.6,368.3 1613.5,367.4 1614.3,366.6 1615.1,365.7 1616.0,364.9 1616.8,364.0 1617.6,363.1 1618.5,362.1 1619.3,361.2 1620.1,360.2 1621.0,359.3 1621.8,358.3 1622.6,357.3 1623.5,356.3 1624.3,355.3 1625.1,354.2 1626.0,353.2 1626.8,352.1 1627.6,351.1 1628.5,350.0 1629.3,348.9 1630.1,347.8 1631.0,346.7 1631.8,345.5 1632.7,344.4 1633.5,343.2 1634.3,342.1 1635.2,340.9 1636.0,339.7 1636.8,338.5 1637.7,337.3 1638.5,336.1 1639.3,334.8 1640.2,333.6 1641.0,332.3 1648.5,307.5 1656.7,295.2 1663.9,281.8 1669.1,268.4 1674.2,259.2 1679.3,251.0 1684.5,246.9 1687.6,248.5 1688.1,294.0 1688.6,250.0 1690.5,253.0 1691.7,259.2 1691.9,266.4" stroke="#ff2424"/>
</g>
<line x1="1224" y1="144" x2="1224" y2="394" stroke="#a8a8a8" stroke-width="5.5"/>
<line x1="1222" y1="146" x2="1710.5" y2="146" stroke="#5a5a5a" stroke-width="3"/>
<line x1="1222" y1="392.3" x2="1710.5" y2="392.3" stroke="#7a7a7a" stroke-width="3"/>
<line x1="1226" y1="395.3" x2="1709" y2="395.3" stroke="#cccccc" stroke-width="3"/>
<line x1="1709.2" y1="145" x2="1709.2" y2="393.5" stroke="#666" stroke-width="2.6"/>
<g stroke="#666" stroke-width="2.5">
<line x1="1285.6" y1="392" x2="1285.6" y2="387"/>
<line x1="1285.6" y1="146" x2="1285.6" y2="151"/>
<line x1="1436.1" y1="392" x2="1436.1" y2="387"/>
<line x1="1436.1" y1="146" x2="1436.1" y2="151"/>
<line x1="1524.2" y1="392" x2="1524.2" y2="387"/>
<line x1="1524.2" y1="146" x2="1524.2" y2="151"/>
<line x1="1586.6" y1="392" x2="1586.6" y2="387"/>
<line x1="1586.6" y1="146" x2="1586.6" y2="151"/>
<line x1="1635.1" y1="392" x2="1635.1" y2="387"/>
<line x1="1635.1" y1="146" x2="1635.1" y2="151"/>
<line x1="1674.7" y1="392" x2="1674.7" y2="387"/>
<line x1="1674.7" y1="146" x2="1674.7" y2="151"/>
<line x1="1224" y1="207.7" x2="1229" y2="207.7"/>
<line x1="1709" y1="207.7" x2="1704" y2="207.7"/>
<line x1="1224" y1="269.2" x2="1229" y2="269.2"/>
<line x1="1709" y1="269.2" x2="1704" y2="269.2"/>
<line x1="1224" y1="330.7" x2="1229" y2="330.7"/>
<line x1="1709" y1="330.7" x2="1704" y2="330.7"/>
</g>
<g transform="translate(267.60,114.00) scale(1.000,1.030)"><text id="t0" class="m" text-anchor="end" font-size="67">60</text></g>
<g transform="translate(267.60,370.00) scale(1.000,1.030)"><text id="t1" class="m" text-anchor="end" font-size="67">30</text></g>
<g transform="translate(267.60,626.00) scale(1.000,1.030)"><text id="t2" class="m" text-anchor="end" font-size="67">0</text></g>
<g transform="translate(267.60,882.00) scale(1.000,1.030)"><text id="t3" class="m" text-anchor="end" font-size="67">-<tspan dx="-2.4">30</tspan></text></g>
<g transform="translate(662.00,922.00) scale(1.000,1.030)"><text id="t4" class="m" text-anchor="middle" font-size="67">1</text><rect x="-14.58" y="-6.56" width="12.54" height="9.31" fill="#fff"/><rect x="4.39" y="-6.56" width="12.02" height="9.31" fill="#fff"/></g>
<g transform="translate(1180.35,922.00) scale(1.000,1.030)"><text id="t5" class="m" font-size="67"><tspan dx="3">1</tspan><tspan dx="-3">0</tspan></text><rect x="7.05" y="-6.56" width="12.54" height="9.31" fill="#fff"/><rect x="26.02" y="-6.56" width="12.02" height="9.31" fill="#fff"/></g>
<g transform="translate(1719.12,922.00) scale(1.000,1.030)"><text id="t6" class="m" font-size="67"><tspan dx="4.5">1</tspan><tspan dx="-4.5">00</tspan></text><rect x="8.55" y="-6.56" width="12.54" height="9.31" fill="#fff"/><rect x="27.52" y="-6.56" width="12.02" height="9.31" fill="#fff"/></g>
<g transform="translate(1022.00,983.00) scale(1.000,1.030)"><text id="t7" class="m" text-anchor="middle" font-size="69.5">Frequency (GHz)</text></g>
<g transform="translate(121.50,474.80) rotate(-90)"><text id="t8" class="m" text-anchor="middle" font-size="69.5">|h<tspan font-size="57" dy="33">21</tspan><tspan dy="-33">| (dB)</tspan></text><rect x="-52.70" y="27.19" width="10.79" height="8.56" fill="#fff"/><rect x="-36.37" y="27.19" width="10.35" height="8.56" fill="#fff"/></g>
<g transform="translate(358.50,597.00) scale(1.000,1.030)"><text id="t9" class="m" font-size="67">35</text></g>
<g transform="translate(431.20,597.00) scale(0.955,1.030)"><text id="t10" class="m" font-size="67">°C</text></g>
<g transform="translate(358.50,673.00) scale(1.000,1.030)"><text id="t11" class="m" font-size="67">90</text></g>
<g transform="translate(431.20,673.00) scale(0.955,1.030)"><text id="t12" class="m" font-size="67">°C</text></g>
<g transform="translate(358.50,749.00) scale(1.000,1.030)"><text id="t13" class="m" font-size="67"><tspan dx="2">1</tspan><tspan dx="-2">45</tspan></text><rect x="6.05" y="-6.56" width="12.54" height="9.31" fill="#fff"/><rect x="25.02" y="-6.56" width="12.02" height="9.31" fill="#fff"/></g>
<g transform="translate(468.46,749.00) scale(0.955,1.030)"><text id="t14" class="m" font-size="67">°C</text></g>
<g transform="translate(358.50,825.00) scale(1.000,1.030)"><text id="t15" class="m" font-size="67">200</text></g>
<g transform="translate(468.46,825.00) scale(0.955,1.030)"><text id="t16" class="m" font-size="67">°C</text></g>
<g transform="translate(1219.50,159.50)"><text id="t17" class="i" text-anchor="end" font-size="37">16</text><rect x="-39.44" y="-4.36" width="7.29" height="7.16" fill="#fff"/><rect x="-28.28" y="-4.36" width="7.00" height="7.16" fill="#fff"/></g>
<g transform="translate(1219.50,221.00)"><text id="t18" class="i" text-anchor="end" font-size="37">8</text></g>
<g transform="translate(1219.50,282.40)"><text id="t19" class="i" text-anchor="end" font-size="37">0</text></g>
<g transform="translate(1219.50,345.00)"><text id="t20" class="i" text-anchor="end" font-size="37">-8</text></g>
<g transform="translate(1219.50,406.00)"><text id="t21" class="i" text-anchor="end" font-size="37">-16</text><rect x="-39.45" y="-4.36" width="7.29" height="7.16" fill="#fff"/><rect x="-28.30" y="-4.36" width="7.00" height="7.16" fill="#fff"/></g>
<g transform="translate(1285.60,432.00) scale(1.000,1.080)"><text id="t22" class="i" text-anchor="middle" font-size="37">10</text><rect x="-18.86" y="-4.36" width="7.29" height="7.16" fill="#fff"/><rect x="-7.70" y="-4.36" width="7.00" height="7.16" fill="#fff"/></g>
<g transform="translate(1524.16,432.00) scale(1.000,1.080)"><text id="t23" class="i" text-anchor="middle" font-size="37">30</text></g>
<g transform="translate(1635.09,432.00) scale(1.000,1.080)"><text id="t24" class="i" text-anchor="middle" font-size="37">50</text></g>
<g transform="translate(1708.15,432.00) scale(1.000,1.080)"><text id="t25" class="i" text-anchor="middle" font-size="37">70</text></g>
<g transform="translate(1465.30,470.00) scale(1.000,1.060)"><text id="t26" class="i" text-anchor="middle" font-size="41.9">Frequency (GHz)</text></g>
<g transform="translate(1134.00,269.50) rotate(-90)"><text id="t27" class="i" text-anchor="middle" font-size="42.8">|h<tspan font-size="34" dy="20.5">21</tspan><tspan dy="-20.5">| (dB)</tspan></text><rect x="-32.99" y="16.36" width="6.76" height="6.94" fill="#fff"/><rect x="-22.62" y="16.36" width="6.49" height="6.94" fill="#fff"/></g>
</svg>
</body></html>
